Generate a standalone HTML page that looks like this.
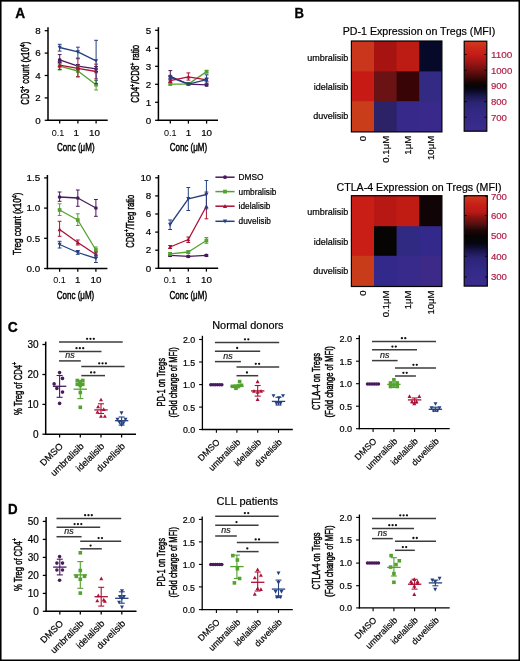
<!DOCTYPE html>
<html><head><meta charset="utf-8"><title>Figure</title>
<style>
html,body{margin:0;padding:0;background:#fff;}
svg{display:block;will-change:transform;}
text{font-family:"Liberation Sans",sans-serif;}
</style></head>
<body>
<svg width="520" height="661" viewBox="0 0 520 661">
<rect width="520" height="661" fill="#fff"/>
<rect x="0" y="0" width="1.55" height="661" fill="#000"/><rect x="518.5" y="0" width="1.5" height="661" fill="#000"/>
<rect x="0" y="0" width="520" height="1.65" fill="#000"/><rect x="0" y="659.5" width="520" height="1.5" fill="#000"/>
<text x="0" y="0" font-size="14.3" fill="#000" stroke="#000" stroke-width="0.3" font-weight="bold" transform="translate(15.3 17.9) scale(0.9586 1)"><tspan >A</tspan></text>
<text x="0" y="0" font-size="14.3" fill="#000" stroke="#000" stroke-width="0.3" font-weight="bold" transform="translate(294.6 18.1) scale(0.9199 1)"><tspan >B</tspan></text>
<text x="0" y="0" font-size="14.3" fill="#000" stroke="#000" stroke-width="0.3" font-weight="bold" transform="translate(7.7 332) scale(0.9683 1)"><tspan >C</tspan></text>
<text x="0" y="0" font-size="14.3" fill="#000" stroke="#000" stroke-width="0.3" font-weight="bold" transform="translate(8 513.8) scale(0.9296 1)"><tspan >D</tspan></text>
<line x1="48" y1="27.2" x2="48" y2="121.05" stroke="#000" stroke-width="1.5" />
<line x1="44.7" y1="30.7" x2="48" y2="30.7" stroke="#000" stroke-width="1.27" />
<text x="40.8" y="33.93" font-size="9.8" text-anchor="end" stroke="#000" stroke-width="0.2" >8</text>
<line x1="44.7" y1="53.1" x2="48" y2="53.1" stroke="#000" stroke-width="1.27" />
<text x="40.8" y="56.33" font-size="9.8" text-anchor="end" stroke="#000" stroke-width="0.2" >6</text>
<line x1="44.7" y1="75.5" x2="48" y2="75.5" stroke="#000" stroke-width="1.27" />
<text x="40.8" y="78.73" font-size="9.8" text-anchor="end" stroke="#000" stroke-width="0.2" >4</text>
<line x1="44.7" y1="97.9" x2="48" y2="97.9" stroke="#000" stroke-width="1.27" />
<text x="40.8" y="101.13" font-size="9.8" text-anchor="end" stroke="#000" stroke-width="0.2" >2</text>
<line x1="44.7" y1="120.3" x2="48" y2="120.3" stroke="#000" stroke-width="1.27" />
<text x="40.8" y="123.53" font-size="9.8" text-anchor="end" stroke="#000" stroke-width="0.2" >0</text>
<line x1="47.25" y1="120.3" x2="107.7" y2="120.3" stroke="#000" stroke-width="1.5" />
<line x1="59.7" y1="120.3" x2="59.7" y2="123.6" stroke="#000" stroke-width="1.27" />
<line x1="77.9" y1="120.3" x2="77.9" y2="123.6" stroke="#000" stroke-width="1.27" />
<line x1="96.1" y1="120.3" x2="96.1" y2="123.6" stroke="#000" stroke-width="1.27" />
<text x="0" y="0" font-size="9.8" text-anchor="middle" fill="#000" transform="translate(58 135.9) scale(0.9249 1)"><tspan >0.1</tspan></text>
<text x="76.2" y="135.9" font-size="9.8" text-anchor="middle" stroke="#000" stroke-width="0.2" >1</text>
<text x="94.4" y="135.9" font-size="9.8" text-anchor="middle" stroke="#000" stroke-width="0.2" >10</text>
<text x="0" y="0" font-size="10.8" text-anchor="middle" fill="#000" stroke="#000" stroke-width="0.45" transform="translate(75.8 151.3) scale(0.7407 1)"><tspan >Conc (μM)</tspan></text>
<text x="0" y="0" font-size="10.8" text-anchor="middle" fill="#000" stroke="#000" stroke-width="0.45" transform="translate(29.4 73.2) rotate(-90) scale(0.7241 1)"><tspan >CD3</tspan><tspan font-size="7.34" dy="-4.64">+</tspan><tspan dy="4.64"> count (x10</tspan><tspan font-size="7.34" dy="-4.64">4</tspan><tspan dy="4.64">)</tspan></text>
<polyline points="59.7,59.9 77.9,66.2 96.1,68.9" fill="none" stroke="#4a1a5e" stroke-width="1.3" stroke-linejoin="round"/>
<line x1="59.7" y1="54.6" x2="59.7" y2="62.5" stroke="#4a1a5e" stroke-width="1" />
<line x1="57.8" y1="54.6" x2="61.6" y2="54.6" stroke="#4a1a5e" stroke-width="1" />
<line x1="57.8" y1="62.5" x2="61.6" y2="62.5" stroke="#4a1a5e" stroke-width="1" />
<line x1="77.9" y1="64.5" x2="77.9" y2="68" stroke="#4a1a5e" stroke-width="1" />
<line x1="76" y1="64.5" x2="79.8" y2="64.5" stroke="#4a1a5e" stroke-width="1" />
<line x1="76" y1="68" x2="79.8" y2="68" stroke="#4a1a5e" stroke-width="1" />
<line x1="96.1" y1="66.5" x2="96.1" y2="71.5" stroke="#4a1a5e" stroke-width="1" />
<line x1="94.2" y1="66.5" x2="98" y2="66.5" stroke="#4a1a5e" stroke-width="1" />
<line x1="94.2" y1="71.5" x2="98" y2="71.5" stroke="#4a1a5e" stroke-width="1" />
<circle cx="59.7" cy="59.9" r="1.85" fill="#4a1a5e"/>
<circle cx="77.9" cy="66.2" r="1.85" fill="#4a1a5e"/>
<circle cx="96.1" cy="68.9" r="1.85" fill="#4a1a5e"/>
<polyline points="59.7,66.2 77.9,71 96.1,84.7" fill="none" stroke="#55a130" stroke-width="1.3" stroke-linejoin="round"/>
<line x1="59.7" y1="63.5" x2="59.7" y2="70" stroke="#55a130" stroke-width="1" />
<line x1="57.8" y1="63.5" x2="61.6" y2="63.5" stroke="#55a130" stroke-width="1" />
<line x1="57.8" y1="70" x2="61.6" y2="70" stroke="#55a130" stroke-width="1" />
<line x1="77.9" y1="66" x2="77.9" y2="76.8" stroke="#55a130" stroke-width="1" />
<line x1="76" y1="66" x2="79.8" y2="66" stroke="#55a130" stroke-width="1" />
<line x1="76" y1="76.8" x2="79.8" y2="76.8" stroke="#55a130" stroke-width="1" />
<line x1="96.1" y1="80.5" x2="96.1" y2="90" stroke="#55a130" stroke-width="1" />
<line x1="94.2" y1="80.5" x2="98" y2="80.5" stroke="#55a130" stroke-width="1" />
<line x1="94.2" y1="90" x2="98" y2="90" stroke="#55a130" stroke-width="1" />
<rect x="57.85" y="64.35" width="3.7" height="3.7" fill="#55a130"/>
<rect x="76.05" y="69.15" width="3.7" height="3.7" fill="#55a130"/>
<rect x="94.25" y="82.85" width="3.7" height="3.7" fill="#55a130"/>
<polyline points="59.7,65.2 77.9,68.3 96.1,71.5" fill="none" stroke="#ad1036" stroke-width="1.3" stroke-linejoin="round"/>
<line x1="59.7" y1="61.5" x2="59.7" y2="69.4" stroke="#ad1036" stroke-width="1" />
<line x1="57.8" y1="61.5" x2="61.6" y2="61.5" stroke="#ad1036" stroke-width="1" />
<line x1="57.8" y1="69.4" x2="61.6" y2="69.4" stroke="#ad1036" stroke-width="1" />
<line x1="77.9" y1="58.8" x2="77.9" y2="76.8" stroke="#ad1036" stroke-width="1" />
<line x1="76" y1="58.8" x2="79.8" y2="58.8" stroke="#ad1036" stroke-width="1" />
<line x1="76" y1="76.8" x2="79.8" y2="76.8" stroke="#ad1036" stroke-width="1" />
<line x1="96.1" y1="64.1" x2="96.1" y2="78.9" stroke="#ad1036" stroke-width="1" />
<line x1="94.2" y1="64.1" x2="98" y2="64.1" stroke="#ad1036" stroke-width="1" />
<line x1="94.2" y1="78.9" x2="98" y2="78.9" stroke="#ad1036" stroke-width="1" />
<polygon points="59.7,63.07 57.67,66.9 61.73,66.9" fill="#ad1036"/>
<polygon points="77.9,66.17 75.87,70 79.94,70" fill="#ad1036"/>
<polygon points="96.1,69.37 94.06,73.2 98.13,73.2" fill="#ad1036"/>
<polyline points="59.7,47.5 77.9,51.9 96.1,60.9" fill="none" stroke="#25407f" stroke-width="1.3" stroke-linejoin="round"/>
<line x1="59.7" y1="44.3" x2="59.7" y2="51.1" stroke="#25407f" stroke-width="1" />
<line x1="57.8" y1="44.3" x2="61.6" y2="44.3" stroke="#25407f" stroke-width="1" />
<line x1="57.8" y1="51.1" x2="61.6" y2="51.1" stroke="#25407f" stroke-width="1" />
<line x1="77.9" y1="47.2" x2="77.9" y2="58.1" stroke="#25407f" stroke-width="1" />
<line x1="76" y1="47.2" x2="79.8" y2="47.2" stroke="#25407f" stroke-width="1" />
<line x1="76" y1="58.1" x2="79.8" y2="58.1" stroke="#25407f" stroke-width="1" />
<line x1="96.1" y1="40.3" x2="96.1" y2="83.7" stroke="#25407f" stroke-width="1" />
<line x1="94.2" y1="40.3" x2="98" y2="40.3" stroke="#25407f" stroke-width="1" />
<line x1="94.2" y1="83.7" x2="98" y2="83.7" stroke="#25407f" stroke-width="1" />
<polygon points="59.7,49.63 57.67,45.8 61.73,45.8" fill="#25407f"/>
<polygon points="77.9,54.03 75.87,50.2 79.94,50.2" fill="#25407f"/>
<polygon points="96.1,63.03 94.06,59.2 98.13,59.2" fill="#25407f"/>
<line x1="158.4" y1="27.2" x2="158.4" y2="121.05" stroke="#000" stroke-width="1.5" />
<line x1="155.1" y1="30.3" x2="158.4" y2="30.3" stroke="#000" stroke-width="1.27" />
<text x="151.2" y="33.53" font-size="9.8" text-anchor="end" stroke="#000" stroke-width="0.2" >5</text>
<line x1="155.1" y1="48.3" x2="158.4" y2="48.3" stroke="#000" stroke-width="1.27" />
<text x="151.2" y="51.53" font-size="9.8" text-anchor="end" stroke="#000" stroke-width="0.2" >4</text>
<line x1="155.1" y1="66.3" x2="158.4" y2="66.3" stroke="#000" stroke-width="1.27" />
<text x="151.2" y="69.53" font-size="9.8" text-anchor="end" stroke="#000" stroke-width="0.2" >3</text>
<line x1="155.1" y1="84.3" x2="158.4" y2="84.3" stroke="#000" stroke-width="1.27" />
<text x="151.2" y="87.53" font-size="9.8" text-anchor="end" stroke="#000" stroke-width="0.2" >2</text>
<line x1="155.1" y1="102.3" x2="158.4" y2="102.3" stroke="#000" stroke-width="1.27" />
<text x="151.2" y="105.53" font-size="9.8" text-anchor="end" stroke="#000" stroke-width="0.2" >1</text>
<line x1="155.1" y1="120.3" x2="158.4" y2="120.3" stroke="#000" stroke-width="1.27" />
<text x="151.2" y="123.53" font-size="9.8" text-anchor="end" stroke="#000" stroke-width="0.2" >0</text>
<line x1="157.65" y1="120.3" x2="218" y2="120.3" stroke="#000" stroke-width="1.5" />
<line x1="170.3" y1="120.3" x2="170.3" y2="123.6" stroke="#000" stroke-width="1.27" />
<line x1="188.4" y1="120.3" x2="188.4" y2="123.6" stroke="#000" stroke-width="1.27" />
<line x1="206.6" y1="120.3" x2="206.6" y2="123.6" stroke="#000" stroke-width="1.27" />
<text x="0" y="0" font-size="9.8" text-anchor="middle" fill="#000" transform="translate(170.3 135.9) scale(0.9249 1)"><tspan >0.1</tspan></text>
<text x="188.4" y="135.9" font-size="9.8" text-anchor="middle" stroke="#000" stroke-width="0.2" >1</text>
<text x="206.6" y="135.9" font-size="9.8" text-anchor="middle" stroke="#000" stroke-width="0.2" >10</text>
<text x="0" y="0" font-size="10.8" text-anchor="middle" fill="#000" stroke="#000" stroke-width="0.45" transform="translate(188.4 151.3) scale(0.7407 1)"><tspan >Conc (μM)</tspan></text>
<text x="0" y="0" font-size="10.8" text-anchor="middle" fill="#000" stroke="#000" stroke-width="0.45" transform="translate(139.3 73.8) rotate(-90) scale(0.7360 1)"><tspan >CD4</tspan><tspan font-size="7.34" dy="-4.64">+</tspan><tspan dy="4.64">/CD8</tspan><tspan font-size="7.34" dy="-4.64">+</tspan><tspan dy="4.64"> ratio</tspan></text>
<polyline points="170.3,76.4 188.4,84.1 206.6,84.9" fill="none" stroke="#4a1a5e" stroke-width="1.3" stroke-linejoin="round"/>
<line x1="170.3" y1="70.6" x2="170.3" y2="80" stroke="#4a1a5e" stroke-width="1" />
<line x1="168.4" y1="70.6" x2="172.2" y2="70.6" stroke="#4a1a5e" stroke-width="1" />
<line x1="168.4" y1="80" x2="172.2" y2="80" stroke="#4a1a5e" stroke-width="1" />
<line x1="188.4" y1="83" x2="188.4" y2="85" stroke="#4a1a5e" stroke-width="1" />
<line x1="186.5" y1="83" x2="190.3" y2="83" stroke="#4a1a5e" stroke-width="1" />
<line x1="186.5" y1="85" x2="190.3" y2="85" stroke="#4a1a5e" stroke-width="1" />
<line x1="206.6" y1="84" x2="206.6" y2="86" stroke="#4a1a5e" stroke-width="1" />
<line x1="204.7" y1="84" x2="208.5" y2="84" stroke="#4a1a5e" stroke-width="1" />
<line x1="204.7" y1="86" x2="208.5" y2="86" stroke="#4a1a5e" stroke-width="1" />
<circle cx="170.3" cy="76.4" r="1.85" fill="#4a1a5e"/>
<circle cx="188.4" cy="84.1" r="1.85" fill="#4a1a5e"/>
<circle cx="206.6" cy="84.9" r="1.85" fill="#4a1a5e"/>
<polyline points="170.3,84.1 188.4,84.1 206.6,71.6" fill="none" stroke="#55a130" stroke-width="1.3" stroke-linejoin="round"/>
<line x1="170.3" y1="83" x2="170.3" y2="85" stroke="#55a130" stroke-width="1" />
<line x1="168.4" y1="83" x2="172.2" y2="83" stroke="#55a130" stroke-width="1" />
<line x1="168.4" y1="85" x2="172.2" y2="85" stroke="#55a130" stroke-width="1" />
<line x1="188.4" y1="83" x2="188.4" y2="85" stroke="#55a130" stroke-width="1" />
<line x1="186.5" y1="83" x2="190.3" y2="83" stroke="#55a130" stroke-width="1" />
<line x1="186.5" y1="85" x2="190.3" y2="85" stroke="#55a130" stroke-width="1" />
<line x1="206.6" y1="70.5" x2="206.6" y2="73" stroke="#55a130" stroke-width="1" />
<line x1="204.7" y1="70.5" x2="208.5" y2="70.5" stroke="#55a130" stroke-width="1" />
<line x1="204.7" y1="73" x2="208.5" y2="73" stroke="#55a130" stroke-width="1" />
<rect x="168.45" y="82.25" width="3.7" height="3.7" fill="#55a130"/>
<rect x="186.55" y="82.25" width="3.7" height="3.7" fill="#55a130"/>
<rect x="204.75" y="69.75" width="3.7" height="3.7" fill="#55a130"/>
<polyline points="170.3,80.6 188.4,76.9 206.6,79.9" fill="none" stroke="#ad1036" stroke-width="1.3" stroke-linejoin="round"/>
<line x1="170.3" y1="79" x2="170.3" y2="82.5" stroke="#ad1036" stroke-width="1" />
<line x1="168.4" y1="79" x2="172.2" y2="79" stroke="#ad1036" stroke-width="1" />
<line x1="168.4" y1="82.5" x2="172.2" y2="82.5" stroke="#ad1036" stroke-width="1" />
<line x1="188.4" y1="72.9" x2="188.4" y2="80.1" stroke="#ad1036" stroke-width="1" />
<line x1="186.5" y1="72.9" x2="190.3" y2="72.9" stroke="#ad1036" stroke-width="1" />
<line x1="186.5" y1="80.1" x2="190.3" y2="80.1" stroke="#ad1036" stroke-width="1" />
<line x1="206.6" y1="78" x2="206.6" y2="82" stroke="#ad1036" stroke-width="1" />
<line x1="204.7" y1="78" x2="208.5" y2="78" stroke="#ad1036" stroke-width="1" />
<line x1="204.7" y1="82" x2="208.5" y2="82" stroke="#ad1036" stroke-width="1" />
<polygon points="170.3,78.47 168.27,82.3 172.34,82.3" fill="#ad1036"/>
<polygon points="188.4,74.77 186.37,78.6 190.44,78.6" fill="#ad1036"/>
<polygon points="206.6,77.77 204.56,81.6 208.63,81.6" fill="#ad1036"/>
<polyline points="170.3,77.5 188.4,84.1 206.6,79.6" fill="none" stroke="#25407f" stroke-width="1.3" stroke-linejoin="round"/>
<line x1="170.3" y1="75.7" x2="170.3" y2="78.8" stroke="#25407f" stroke-width="1" />
<line x1="168.4" y1="75.7" x2="172.2" y2="75.7" stroke="#25407f" stroke-width="1" />
<line x1="168.4" y1="78.8" x2="172.2" y2="78.8" stroke="#25407f" stroke-width="1" />
<line x1="188.4" y1="83" x2="188.4" y2="85" stroke="#25407f" stroke-width="1" />
<line x1="186.5" y1="83" x2="190.3" y2="83" stroke="#25407f" stroke-width="1" />
<line x1="186.5" y1="85" x2="190.3" y2="85" stroke="#25407f" stroke-width="1" />
<line x1="206.6" y1="74.8" x2="206.6" y2="84" stroke="#25407f" stroke-width="1" />
<line x1="204.7" y1="74.8" x2="208.5" y2="74.8" stroke="#25407f" stroke-width="1" />
<line x1="204.7" y1="84" x2="208.5" y2="84" stroke="#25407f" stroke-width="1" />
<polygon points="170.3,79.63 168.27,75.8 172.34,75.8" fill="#25407f"/>
<polygon points="188.4,86.23 186.37,82.4 190.44,82.4" fill="#25407f"/>
<polygon points="206.6,81.73 204.56,77.9 208.63,77.9" fill="#25407f"/>
<line x1="47.4" y1="175" x2="47.4" y2="269.25" stroke="#000" stroke-width="1.5" />
<line x1="44.1" y1="177.9" x2="47.4" y2="177.9" stroke="#000" stroke-width="1.27" />
<text x="40.2" y="181.13" font-size="9.8" text-anchor="end" stroke="#000" stroke-width="0.2" >1.5</text>
<line x1="44.1" y1="208.1" x2="47.4" y2="208.1" stroke="#000" stroke-width="1.27" />
<text x="40.2" y="211.33" font-size="9.8" text-anchor="end" stroke="#000" stroke-width="0.2" >1.0</text>
<line x1="44.1" y1="238.3" x2="47.4" y2="238.3" stroke="#000" stroke-width="1.27" />
<text x="40.2" y="241.53" font-size="9.8" text-anchor="end" stroke="#000" stroke-width="0.2" >0.5</text>
<line x1="44.1" y1="268.5" x2="47.4" y2="268.5" stroke="#000" stroke-width="1.27" />
<text x="40.2" y="271.73" font-size="9.8" text-anchor="end" stroke="#000" stroke-width="0.2" >0.0</text>
<line x1="46.65" y1="268.5" x2="107.4" y2="268.5" stroke="#000" stroke-width="1.5" />
<line x1="59.6" y1="268.5" x2="59.6" y2="271.8" stroke="#000" stroke-width="1.27" />
<line x1="77.8" y1="268.5" x2="77.8" y2="271.8" stroke="#000" stroke-width="1.27" />
<line x1="95.9" y1="268.5" x2="95.9" y2="271.8" stroke="#000" stroke-width="1.27" />
<text x="0" y="0" font-size="9.8" text-anchor="middle" fill="#000" transform="translate(59.6 283.4) scale(0.9249 1)"><tspan >0.1</tspan></text>
<text x="77.8" y="283.4" font-size="9.8" text-anchor="middle" stroke="#000" stroke-width="0.2" >1</text>
<text x="95.9" y="283.4" font-size="9.8" text-anchor="middle" stroke="#000" stroke-width="0.2" >10</text>
<text x="0" y="0" font-size="10.8" text-anchor="middle" fill="#000" stroke="#000" stroke-width="0.45" transform="translate(75.5 299.3) scale(0.7407 1)"><tspan >Conc (μM)</tspan></text>
<text x="0" y="0" font-size="10.8" text-anchor="middle" fill="#000" stroke="#000" stroke-width="0.45" transform="translate(21.4 223.7) rotate(-90) scale(0.7537 1)"><tspan >Treg count (x10</tspan><tspan font-size="7.34" dy="-4.64">4</tspan><tspan dy="4.64">)</tspan></text>
<polyline points="59.6,197 77.8,198 95.9,208" fill="none" stroke="#4a1a5e" stroke-width="1.3" stroke-linejoin="round"/>
<line x1="59.6" y1="192" x2="59.6" y2="201.3" stroke="#4a1a5e" stroke-width="1" />
<line x1="57.7" y1="192" x2="61.5" y2="192" stroke="#4a1a5e" stroke-width="1" />
<line x1="57.7" y1="201.3" x2="61.5" y2="201.3" stroke="#4a1a5e" stroke-width="1" />
<line x1="77.8" y1="190" x2="77.8" y2="206.3" stroke="#4a1a5e" stroke-width="1" />
<line x1="75.9" y1="190" x2="79.7" y2="190" stroke="#4a1a5e" stroke-width="1" />
<line x1="75.9" y1="206.3" x2="79.7" y2="206.3" stroke="#4a1a5e" stroke-width="1" />
<line x1="95.9" y1="199.5" x2="95.9" y2="216.3" stroke="#4a1a5e" stroke-width="1" />
<line x1="94" y1="199.5" x2="97.8" y2="199.5" stroke="#4a1a5e" stroke-width="1" />
<line x1="94" y1="216.3" x2="97.8" y2="216.3" stroke="#4a1a5e" stroke-width="1" />
<circle cx="59.6" cy="197" r="1.85" fill="#4a1a5e"/>
<circle cx="77.8" cy="198" r="1.85" fill="#4a1a5e"/>
<circle cx="95.9" cy="208" r="1.85" fill="#4a1a5e"/>
<polyline points="59.6,210 77.8,220 95.9,250" fill="none" stroke="#55a130" stroke-width="1.3" stroke-linejoin="round"/>
<line x1="59.6" y1="203.8" x2="59.6" y2="215.5" stroke="#55a130" stroke-width="1" />
<line x1="57.7" y1="203.8" x2="61.5" y2="203.8" stroke="#55a130" stroke-width="1" />
<line x1="57.7" y1="215.5" x2="61.5" y2="215.5" stroke="#55a130" stroke-width="1" />
<line x1="77.8" y1="213.8" x2="77.8" y2="225.5" stroke="#55a130" stroke-width="1" />
<line x1="75.9" y1="213.8" x2="79.7" y2="213.8" stroke="#55a130" stroke-width="1" />
<line x1="75.9" y1="225.5" x2="79.7" y2="225.5" stroke="#55a130" stroke-width="1" />
<line x1="95.9" y1="247" x2="95.9" y2="253" stroke="#55a130" stroke-width="1" />
<line x1="94" y1="247" x2="97.8" y2="247" stroke="#55a130" stroke-width="1" />
<line x1="94" y1="253" x2="97.8" y2="253" stroke="#55a130" stroke-width="1" />
<rect x="57.75" y="208.15" width="3.7" height="3.7" fill="#55a130"/>
<rect x="75.95" y="218.15" width="3.7" height="3.7" fill="#55a130"/>
<rect x="94.05" y="248.15" width="3.7" height="3.7" fill="#55a130"/>
<polyline points="59.6,229.5 77.8,242.5 95.9,254.5" fill="none" stroke="#ad1036" stroke-width="1.3" stroke-linejoin="round"/>
<line x1="59.6" y1="221.3" x2="59.6" y2="236.3" stroke="#ad1036" stroke-width="1" />
<line x1="57.7" y1="221.3" x2="61.5" y2="221.3" stroke="#ad1036" stroke-width="1" />
<line x1="57.7" y1="236.3" x2="61.5" y2="236.3" stroke="#ad1036" stroke-width="1" />
<line x1="77.8" y1="240" x2="77.8" y2="245" stroke="#ad1036" stroke-width="1" />
<line x1="75.9" y1="240" x2="79.7" y2="240" stroke="#ad1036" stroke-width="1" />
<line x1="75.9" y1="245" x2="79.7" y2="245" stroke="#ad1036" stroke-width="1" />
<line x1="95.9" y1="252" x2="95.9" y2="257.5" stroke="#ad1036" stroke-width="1" />
<line x1="94" y1="252" x2="97.8" y2="252" stroke="#ad1036" stroke-width="1" />
<line x1="94" y1="257.5" x2="97.8" y2="257.5" stroke="#ad1036" stroke-width="1" />
<polygon points="59.6,227.37 57.56,231.2 61.64,231.2" fill="#ad1036"/>
<polygon points="77.8,240.37 75.77,244.2 79.83,244.2" fill="#ad1036"/>
<polygon points="95.9,252.37 93.87,256.2 97.94,256.2" fill="#ad1036"/>
<polyline points="59.6,244.5 77.8,252.5 95.9,258.3" fill="none" stroke="#25407f" stroke-width="1.3" stroke-linejoin="round"/>
<line x1="59.6" y1="241.3" x2="59.6" y2="248" stroke="#25407f" stroke-width="1" />
<line x1="57.7" y1="241.3" x2="61.5" y2="241.3" stroke="#25407f" stroke-width="1" />
<line x1="57.7" y1="248" x2="61.5" y2="248" stroke="#25407f" stroke-width="1" />
<line x1="77.8" y1="250.5" x2="77.8" y2="254.3" stroke="#25407f" stroke-width="1" />
<line x1="75.9" y1="250.5" x2="79.7" y2="250.5" stroke="#25407f" stroke-width="1" />
<line x1="75.9" y1="254.3" x2="79.7" y2="254.3" stroke="#25407f" stroke-width="1" />
<line x1="95.9" y1="255" x2="95.9" y2="262.5" stroke="#25407f" stroke-width="1" />
<line x1="94" y1="255" x2="97.8" y2="255" stroke="#25407f" stroke-width="1" />
<line x1="94" y1="262.5" x2="97.8" y2="262.5" stroke="#25407f" stroke-width="1" />
<polygon points="59.6,246.63 57.56,242.8 61.64,242.8" fill="#25407f"/>
<polygon points="77.8,254.63 75.77,250.8 79.83,250.8" fill="#25407f"/>
<polygon points="95.9,260.43 93.87,256.6 97.94,256.6" fill="#25407f"/>
<line x1="158.5" y1="175" x2="158.5" y2="269.05" stroke="#000" stroke-width="1.5" />
<line x1="155.2" y1="177.8" x2="158.5" y2="177.8" stroke="#000" stroke-width="1.27" />
<text x="151.3" y="181.03" font-size="9.8" text-anchor="end" stroke="#000" stroke-width="0.2" >10</text>
<line x1="155.2" y1="195.9" x2="158.5" y2="195.9" stroke="#000" stroke-width="1.27" />
<text x="151.3" y="199.13" font-size="9.8" text-anchor="end" stroke="#000" stroke-width="0.2" >8</text>
<line x1="155.2" y1="214" x2="158.5" y2="214" stroke="#000" stroke-width="1.27" />
<text x="151.3" y="217.23" font-size="9.8" text-anchor="end" stroke="#000" stroke-width="0.2" >6</text>
<line x1="155.2" y1="232.1" x2="158.5" y2="232.1" stroke="#000" stroke-width="1.27" />
<text x="151.3" y="235.33" font-size="9.8" text-anchor="end" stroke="#000" stroke-width="0.2" >4</text>
<line x1="155.2" y1="250.2" x2="158.5" y2="250.2" stroke="#000" stroke-width="1.27" />
<text x="151.3" y="253.43" font-size="9.8" text-anchor="end" stroke="#000" stroke-width="0.2" >2</text>
<line x1="155.2" y1="268.3" x2="158.5" y2="268.3" stroke="#000" stroke-width="1.27" />
<text x="151.3" y="271.53" font-size="9.8" text-anchor="end" stroke="#000" stroke-width="0.2" >0</text>
<line x1="157.75" y1="268.3" x2="218.2" y2="268.3" stroke="#000" stroke-width="1.5" />
<line x1="170.1" y1="268.3" x2="170.1" y2="271.6" stroke="#000" stroke-width="1.27" />
<line x1="188.3" y1="268.3" x2="188.3" y2="271.6" stroke="#000" stroke-width="1.27" />
<line x1="206.4" y1="268.3" x2="206.4" y2="271.6" stroke="#000" stroke-width="1.27" />
<text x="0" y="0" font-size="9.8" text-anchor="middle" fill="#000" transform="translate(170.1 283.4) scale(0.9249 1)"><tspan >0.1</tspan></text>
<text x="188.3" y="283.4" font-size="9.8" text-anchor="middle" stroke="#000" stroke-width="0.2" >1</text>
<text x="206.4" y="283.4" font-size="9.8" text-anchor="middle" stroke="#000" stroke-width="0.2" >10</text>
<text x="0" y="0" font-size="10.8" text-anchor="middle" fill="#000" stroke="#000" stroke-width="0.45" transform="translate(188.3 299.3) scale(0.7407 1)"><tspan >Conc (μM)</tspan></text>
<text x="0" y="0" font-size="10.8" text-anchor="middle" fill="#000" stroke="#000" stroke-width="0.45" transform="translate(133.7 221.2) rotate(-90) scale(0.7094 1)"><tspan >CD8</tspan><tspan font-size="7.34" dy="-4.64">+</tspan><tspan dy="4.64">/Treg ratio</tspan></text>
<polyline points="170.1,255.3 188.3,256.3 206.4,255.3" fill="none" stroke="#4a1a5e" stroke-width="1.3" stroke-linejoin="round"/>
<line x1="170.1" y1="254.5" x2="170.1" y2="256.5" stroke="#4a1a5e" stroke-width="1" />
<line x1="168.2" y1="254.5" x2="172" y2="254.5" stroke="#4a1a5e" stroke-width="1" />
<line x1="168.2" y1="256.5" x2="172" y2="256.5" stroke="#4a1a5e" stroke-width="1" />
<line x1="188.3" y1="255.5" x2="188.3" y2="257.5" stroke="#4a1a5e" stroke-width="1" />
<line x1="186.4" y1="255.5" x2="190.2" y2="255.5" stroke="#4a1a5e" stroke-width="1" />
<line x1="186.4" y1="257.5" x2="190.2" y2="257.5" stroke="#4a1a5e" stroke-width="1" />
<line x1="206.4" y1="254.5" x2="206.4" y2="256.5" stroke="#4a1a5e" stroke-width="1" />
<line x1="204.5" y1="254.5" x2="208.3" y2="254.5" stroke="#4a1a5e" stroke-width="1" />
<line x1="204.5" y1="256.5" x2="208.3" y2="256.5" stroke="#4a1a5e" stroke-width="1" />
<circle cx="170.1" cy="255.3" r="1.85" fill="#4a1a5e"/>
<circle cx="188.3" cy="256.3" r="1.85" fill="#4a1a5e"/>
<circle cx="206.4" cy="255.3" r="1.85" fill="#4a1a5e"/>
<polyline points="170.1,253.8 188.3,252 206.4,240.5" fill="none" stroke="#55a130" stroke-width="1.3" stroke-linejoin="round"/>
<line x1="170.1" y1="252.5" x2="170.1" y2="255" stroke="#55a130" stroke-width="1" />
<line x1="168.2" y1="252.5" x2="172" y2="252.5" stroke="#55a130" stroke-width="1" />
<line x1="168.2" y1="255" x2="172" y2="255" stroke="#55a130" stroke-width="1" />
<line x1="188.3" y1="251" x2="188.3" y2="253.5" stroke="#55a130" stroke-width="1" />
<line x1="186.4" y1="251" x2="190.2" y2="251" stroke="#55a130" stroke-width="1" />
<line x1="186.4" y1="253.5" x2="190.2" y2="253.5" stroke="#55a130" stroke-width="1" />
<line x1="206.4" y1="237.5" x2="206.4" y2="243.3" stroke="#55a130" stroke-width="1" />
<line x1="204.5" y1="237.5" x2="208.3" y2="237.5" stroke="#55a130" stroke-width="1" />
<line x1="204.5" y1="243.3" x2="208.3" y2="243.3" stroke="#55a130" stroke-width="1" />
<rect x="168.25" y="251.95" width="3.7" height="3.7" fill="#55a130"/>
<rect x="186.45" y="250.15" width="3.7" height="3.7" fill="#55a130"/>
<rect x="204.55" y="238.65" width="3.7" height="3.7" fill="#55a130"/>
<polyline points="170.1,247 188.3,239.5 206.4,206.3" fill="none" stroke="#ad1036" stroke-width="1.3" stroke-linejoin="round"/>
<line x1="170.1" y1="245.5" x2="170.1" y2="248.5" stroke="#ad1036" stroke-width="1" />
<line x1="168.2" y1="245.5" x2="172" y2="245.5" stroke="#ad1036" stroke-width="1" />
<line x1="168.2" y1="248.5" x2="172" y2="248.5" stroke="#ad1036" stroke-width="1" />
<line x1="188.3" y1="237" x2="188.3" y2="242.5" stroke="#ad1036" stroke-width="1" />
<line x1="186.4" y1="237" x2="190.2" y2="237" stroke="#ad1036" stroke-width="1" />
<line x1="186.4" y1="242.5" x2="190.2" y2="242.5" stroke="#ad1036" stroke-width="1" />
<line x1="206.4" y1="192" x2="206.4" y2="218.8" stroke="#ad1036" stroke-width="1" />
<line x1="204.5" y1="192" x2="208.3" y2="192" stroke="#ad1036" stroke-width="1" />
<line x1="204.5" y1="218.8" x2="208.3" y2="218.8" stroke="#ad1036" stroke-width="1" />
<polygon points="170.1,244.87 168.06,248.7 172.13,248.7" fill="#ad1036"/>
<polygon points="188.3,237.37 186.27,241.2 190.34,241.2" fill="#ad1036"/>
<polygon points="206.4,204.17 204.37,208 208.44,208" fill="#ad1036"/>
<polyline points="170.1,224.5 188.3,198.8 206.4,194.5" fill="none" stroke="#25407f" stroke-width="1.3" stroke-linejoin="round"/>
<line x1="170.1" y1="220" x2="170.1" y2="229.5" stroke="#25407f" stroke-width="1" />
<line x1="168.2" y1="220" x2="172" y2="220" stroke="#25407f" stroke-width="1" />
<line x1="168.2" y1="229.5" x2="172" y2="229.5" stroke="#25407f" stroke-width="1" />
<line x1="188.3" y1="187.5" x2="188.3" y2="210.5" stroke="#25407f" stroke-width="1" />
<line x1="186.4" y1="187.5" x2="190.2" y2="187.5" stroke="#25407f" stroke-width="1" />
<line x1="186.4" y1="210.5" x2="190.2" y2="210.5" stroke="#25407f" stroke-width="1" />
<line x1="206.4" y1="180.5" x2="206.4" y2="208.8" stroke="#25407f" stroke-width="1" />
<line x1="204.5" y1="180.5" x2="208.3" y2="180.5" stroke="#25407f" stroke-width="1" />
<line x1="204.5" y1="208.8" x2="208.3" y2="208.8" stroke="#25407f" stroke-width="1" />
<polygon points="170.1,226.63 168.06,222.8 172.13,222.8" fill="#25407f"/>
<polygon points="188.3,200.93 186.27,197.1 190.34,197.1" fill="#25407f"/>
<polygon points="206.4,196.63 204.37,192.8 208.44,192.8" fill="#25407f"/>
<line x1="215.4" y1="177.2" x2="234.6" y2="177.2" stroke="#4a1a5e" stroke-width="1.5" />
<circle cx="225" cy="177.2" r="1.9" fill="#4a1a5e"/>
<text x="238.6" y="180.2" font-size="8.3" stroke="#000" stroke-width="0.2" >DMSO</text>
<line x1="215.4" y1="191.6" x2="234.6" y2="191.6" stroke="#55a130" stroke-width="1.5" />
<rect x="223.1" y="189.7" width="3.8" height="3.8" fill="#55a130"/>
<text x="238.6" y="194.6" font-size="8.3" stroke="#000" stroke-width="0.2" >umbralisib</text>
<line x1="215.4" y1="206.2" x2="234.6" y2="206.2" stroke="#ad1036" stroke-width="1.5" />
<polygon points="225,204.01 222.91,207.95 227.09,207.95" fill="#ad1036"/>
<text x="238.6" y="209.2" font-size="8.3" stroke="#000" stroke-width="0.2" >idelalisib</text>
<line x1="215.4" y1="221.3" x2="234.6" y2="221.3" stroke="#25407f" stroke-width="1.5" />
<polygon points="225,223.49 222.91,219.55 227.09,219.55" fill="#25407f"/>
<text x="238.6" y="224.3" font-size="8.3" stroke="#000" stroke-width="0.2" >duvelisib</text>
<text x="419" y="34.7" font-size="10.65" text-anchor="middle" stroke="#000" stroke-width="0.2" >PD-1 Expression on Tregs (MFI)</text>
<rect x="351.4" y="41" width="23.6" height="31.4" fill="#c9361b"/>
<rect x="374" y="41" width="23.6" height="31.4" fill="#a71311"/>
<rect x="396.6" y="41" width="23.6" height="31.4" fill="#bd1c14"/>
<rect x="419.2" y="41" width="22.7" height="31.4" fill="#060a28"/>
<rect x="351.4" y="71.4" width="23.6" height="30.8" fill="#c71a14"/>
<rect x="374" y="71.4" width="23.6" height="30.8" fill="#6b1214"/>
<rect x="396.6" y="71.4" width="23.6" height="30.8" fill="#380406"/>
<rect x="419.2" y="71.4" width="22.7" height="30.8" fill="#332a84"/>
<rect x="351.4" y="101.2" width="23.6" height="30.7" fill="#c93d1b"/>
<rect x="374" y="101.2" width="23.6" height="30.7" fill="#2b2267"/>
<rect x="396.6" y="101.2" width="23.6" height="30.7" fill="#36298a"/>
<rect x="419.2" y="101.2" width="22.7" height="30.7" fill="#38298a"/>
<rect x="351.4" y="41" width="90.5" height="90.9" fill="none" stroke="#000" stroke-width="1.2"/>
<text x="348.3" y="60.7" font-size="9" text-anchor="end" stroke="#000" stroke-width="0.2" >umbralisib</text>
<text x="348.3" y="90.3" font-size="9" text-anchor="end" stroke="#000" stroke-width="0.2" >idelalisib</text>
<text x="348.3" y="119.4" font-size="9" text-anchor="end" stroke="#000" stroke-width="0.2" >duvelisib</text>
<text x="0" y="0" font-size="9.6" text-anchor="end" stroke="#000" stroke-width="0.2" transform="translate(366.1 135.8) rotate(-90)" >0</text>
<text x="0" y="0" font-size="9.6" text-anchor="end" stroke="#000" stroke-width="0.2" transform="translate(388.7 135.8) rotate(-90)" >0.1μM</text>
<text x="0" y="0" font-size="9.6" text-anchor="end" stroke="#000" stroke-width="0.2" transform="translate(411.3 135.8) rotate(-90)" >1μM</text>
<text x="0" y="0" font-size="9.6" text-anchor="end" stroke="#000" stroke-width="0.2" transform="translate(433.95 135.8) rotate(-90)" >10μM</text>
<defs><linearGradient id="g1" x1="0" y1="0" x2="0" y2="1"><stop offset="0" stop-color="#d03c1e"/><stop offset="0.07" stop-color="#cc2a1a"/><stop offset="0.15" stop-color="#c41c18"/><stop offset="0.23" stop-color="#a01614"/><stop offset="0.32" stop-color="#701010"/><stop offset="0.4" stop-color="#400808"/><stop offset="0.47" stop-color="#100404"/><stop offset="0.51" stop-color="#050508"/><stop offset="0.55" stop-color="#0a0a24"/><stop offset="0.61" stop-color="#1a1850"/><stop offset="0.68" stop-color="#2a2472"/><stop offset="0.77" stop-color="#322883"/><stop offset="1" stop-color="#3a2c8e"/></linearGradient></defs>
<rect x="464.2" y="41.2" width="22.6" height="90" fill="url(#g1)" stroke="#000" stroke-width="1.2"/>
<line x1="464.2" y1="54.5" x2="466.6" y2="54.5" stroke="#000" stroke-width="0.9" />
<line x1="484.4" y1="54.5" x2="486.8" y2="54.5" stroke="#000" stroke-width="0.9" />
<text x="490.9" y="57.85" font-size="9.6" fill="#b01e46" textLength="21.4" lengthAdjust="spacingAndGlyphs" stroke="#b01e46" stroke-width="0.2" >1100</text>
<line x1="464.2" y1="70.3" x2="466.6" y2="70.3" stroke="#000" stroke-width="0.9" />
<line x1="484.4" y1="70.3" x2="486.8" y2="70.3" stroke="#000" stroke-width="0.9" />
<text x="490.9" y="73.65" font-size="9.6" fill="#b01e46" textLength="21.4" lengthAdjust="spacingAndGlyphs" stroke="#b01e46" stroke-width="0.2" >1000</text>
<line x1="464.2" y1="86.1" x2="466.6" y2="86.1" stroke="#000" stroke-width="0.9" />
<line x1="484.4" y1="86.1" x2="486.8" y2="86.1" stroke="#000" stroke-width="0.9" />
<text x="490.9" y="89.45" font-size="9.6" fill="#b01e46" textLength="16.05" lengthAdjust="spacingAndGlyphs" stroke="#b01e46" stroke-width="0.2" >900</text>
<line x1="464.2" y1="101.6" x2="466.6" y2="101.6" stroke="#000" stroke-width="0.9" />
<line x1="484.4" y1="101.6" x2="486.8" y2="101.6" stroke="#000" stroke-width="0.9" />
<text x="490.9" y="104.95" font-size="9.6" fill="#b01e46" textLength="16.05" lengthAdjust="spacingAndGlyphs" stroke="#b01e46" stroke-width="0.2" >800</text>
<line x1="464.2" y1="117.2" x2="466.6" y2="117.2" stroke="#000" stroke-width="0.9" />
<line x1="484.4" y1="117.2" x2="486.8" y2="117.2" stroke="#000" stroke-width="0.9" />
<text x="490.9" y="120.55" font-size="9.6" fill="#b01e46" textLength="16.05" lengthAdjust="spacingAndGlyphs" stroke="#b01e46" stroke-width="0.2" >700</text>
<text x="419" y="190.6" font-size="10.65" text-anchor="middle" stroke="#000" stroke-width="0.2" >CTLA-4 Expression on Tregs (MFI)</text>
<rect x="351.4" y="195.7" width="23.6" height="31.5" fill="#c81e16"/>
<rect x="374" y="195.7" width="23.6" height="31.5" fill="#b81814"/>
<rect x="396.6" y="195.7" width="23.6" height="31.5" fill="#c01c14"/>
<rect x="419.2" y="195.7" width="22.7" height="31.5" fill="#110406"/>
<rect x="351.4" y="226.2" width="23.6" height="30.6" fill="#c81e16"/>
<rect x="374" y="226.2" width="23.6" height="30.6" fill="#070404"/>
<rect x="396.6" y="226.2" width="23.6" height="30.6" fill="#302a82"/>
<rect x="419.2" y="226.2" width="22.7" height="30.6" fill="#33298a"/>
<rect x="351.4" y="255.8" width="23.6" height="30.7" fill="#c93c1a"/>
<rect x="374" y="255.8" width="23.6" height="30.7" fill="#33298a"/>
<rect x="396.6" y="255.8" width="23.6" height="30.7" fill="#382a8a"/>
<rect x="419.2" y="255.8" width="22.7" height="30.7" fill="#3d2a88"/>
<rect x="351.4" y="195.7" width="90.5" height="90.8" fill="none" stroke="#000" stroke-width="1.2"/>
<text x="348.3" y="215.1" font-size="9" text-anchor="end" stroke="#000" stroke-width="0.2" >umbralisib</text>
<text x="348.3" y="244.7" font-size="9" text-anchor="end" stroke="#000" stroke-width="0.2" >idelalisib</text>
<text x="348.3" y="274" font-size="9" text-anchor="end" stroke="#000" stroke-width="0.2" >duvelisib</text>
<text x="0" y="0" font-size="9.6" text-anchor="end" stroke="#000" stroke-width="0.2" transform="translate(366.1 290.4) rotate(-90)" >0</text>
<text x="0" y="0" font-size="9.6" text-anchor="end" stroke="#000" stroke-width="0.2" transform="translate(388.7 290.4) rotate(-90)" >0.1μM</text>
<text x="0" y="0" font-size="9.6" text-anchor="end" stroke="#000" stroke-width="0.2" transform="translate(411.3 290.4) rotate(-90)" >1μM</text>
<text x="0" y="0" font-size="9.6" text-anchor="end" stroke="#000" stroke-width="0.2" transform="translate(433.95 290.4) rotate(-90)" >10μM</text>
<defs><linearGradient id="g2" x1="0" y1="0" x2="0" y2="1"><stop offset="0" stop-color="#d03a1e"/><stop offset="0.1" stop-color="#c81e18"/><stop offset="0.18" stop-color="#b81a16"/><stop offset="0.24" stop-color="#8a1210"/><stop offset="0.32" stop-color="#501010"/><stop offset="0.38" stop-color="#200606"/><stop offset="0.45" stop-color="#060404"/><stop offset="0.52" stop-color="#05050c"/><stop offset="0.57" stop-color="#0d0c30"/><stop offset="0.62" stop-color="#1c1850"/><stop offset="0.69" stop-color="#2c2478"/><stop offset="0.83" stop-color="#342a88"/><stop offset="1" stop-color="#3a2c8e"/></linearGradient></defs>
<rect x="464.2" y="195.7" width="23.1" height="90.4" fill="url(#g2)" stroke="#000" stroke-width="1.2"/>
<line x1="464.2" y1="196.3" x2="466.6" y2="196.3" stroke="#000" stroke-width="0.9" />
<line x1="484.9" y1="196.3" x2="487.3" y2="196.3" stroke="#000" stroke-width="0.9" />
<text x="490.9" y="199.65" font-size="9.6" fill="#b01e46" textLength="16.05" lengthAdjust="spacingAndGlyphs" stroke="#b01e46" stroke-width="0.2" >700</text>
<line x1="464.2" y1="215.6" x2="466.6" y2="215.6" stroke="#000" stroke-width="0.9" />
<line x1="484.9" y1="215.6" x2="487.3" y2="215.6" stroke="#000" stroke-width="0.9" />
<text x="490.9" y="218.95" font-size="9.6" fill="#b01e46" textLength="16.05" lengthAdjust="spacingAndGlyphs" stroke="#b01e46" stroke-width="0.2" >600</text>
<line x1="464.2" y1="236" x2="466.6" y2="236" stroke="#000" stroke-width="0.9" />
<line x1="484.9" y1="236" x2="487.3" y2="236" stroke="#000" stroke-width="0.9" />
<text x="490.9" y="239.35" font-size="9.6" fill="#b01e46" textLength="16.05" lengthAdjust="spacingAndGlyphs" stroke="#b01e46" stroke-width="0.2" >500</text>
<line x1="464.2" y1="256.3" x2="466.6" y2="256.3" stroke="#000" stroke-width="0.9" />
<line x1="484.9" y1="256.3" x2="487.3" y2="256.3" stroke="#000" stroke-width="0.9" />
<text x="490.9" y="259.65" font-size="9.6" fill="#b01e46" textLength="16.05" lengthAdjust="spacingAndGlyphs" stroke="#b01e46" stroke-width="0.2" >400</text>
<line x1="464.2" y1="277" x2="466.6" y2="277" stroke="#000" stroke-width="0.9" />
<line x1="484.9" y1="277" x2="487.3" y2="277" stroke="#000" stroke-width="0.9" />
<text x="490.9" y="280.35" font-size="9.6" fill="#b01e46" textLength="16.05" lengthAdjust="spacingAndGlyphs" stroke="#b01e46" stroke-width="0.2" >300</text>
<line x1="45.7" y1="341.6" x2="45.7" y2="434.95" stroke="#000" stroke-width="1.5" />
<line x1="42.4" y1="344.5" x2="45.7" y2="344.5" stroke="#000" stroke-width="1.27" />
<text x="38.5" y="347.8" font-size="10" text-anchor="end" stroke="#000" stroke-width="0.2" >30</text>
<line x1="42.4" y1="374.5" x2="45.7" y2="374.5" stroke="#000" stroke-width="1.27" />
<text x="38.5" y="377.8" font-size="10" text-anchor="end" stroke="#000" stroke-width="0.2" >20</text>
<line x1="42.4" y1="404.4" x2="45.7" y2="404.4" stroke="#000" stroke-width="1.27" />
<text x="38.5" y="407.7" font-size="10" text-anchor="end" stroke="#000" stroke-width="0.2" >10</text>
<line x1="42.4" y1="434.2" x2="45.7" y2="434.2" stroke="#000" stroke-width="1.27" />
<text x="38.5" y="437.5" font-size="10" text-anchor="end" stroke="#000" stroke-width="0.2" >0</text>
<line x1="44.95" y1="434.2" x2="136" y2="434.2" stroke="#000" stroke-width="1.5" />
<line x1="59.6" y1="434.2" x2="59.6" y2="437.5" stroke="#000" stroke-width="1.27" />
<line x1="80.3" y1="434.2" x2="80.3" y2="437.5" stroke="#000" stroke-width="1.27" />
<line x1="101" y1="434.2" x2="101" y2="437.5" stroke="#000" stroke-width="1.27" />
<line x1="121.6" y1="434.2" x2="121.6" y2="437.5" stroke="#000" stroke-width="1.27" />
<text x="0" y="0" font-size="10.8" text-anchor="middle" fill="#000" stroke="#000" stroke-width="0.45" transform="translate(21.5 388.5) rotate(-90) scale(0.7056 1)"><tspan >% Treg of CD4</tspan><tspan font-size="7.34" dy="-4.64">+</tspan></text>
<text x="0" y="0" font-size="9.3" text-anchor="end" stroke="#000" stroke-width="0.2" transform="translate(63.6 446.8) rotate(-45)" >DMSO</text>
<text x="0" y="0" font-size="9.3" text-anchor="end" stroke="#000" stroke-width="0.2" transform="translate(84.3 446.8) rotate(-45)" >umbralisib</text>
<text x="0" y="0" font-size="9.3" text-anchor="end" stroke="#000" stroke-width="0.2" transform="translate(105 446.8) rotate(-45)" >idelalisib</text>
<text x="0" y="0" font-size="9.3" text-anchor="end" stroke="#000" stroke-width="0.2" transform="translate(125.6 446.8) rotate(-45)" >duvelisib</text>
<line x1="59" y1="342" x2="122.7" y2="342" stroke="#3c3c3c" stroke-width="1.5" />
<circle cx="87.1" cy="338.8" r="1.15" fill="#111"/>
<circle cx="90.45" cy="338.8" r="1.15" fill="#111"/>
<circle cx="93.8" cy="338.8" r="1.15" fill="#111"/>
<line x1="59" y1="351.4" x2="101.5" y2="351.4" stroke="#3c3c3c" stroke-width="1.5" />
<circle cx="76.5" cy="348.2" r="1.15" fill="#111"/>
<circle cx="79.85" cy="348.2" r="1.15" fill="#111"/>
<circle cx="83.2" cy="348.2" r="1.15" fill="#111"/>
<line x1="59" y1="360.9" x2="80.8" y2="360.9" stroke="#3c3c3c" stroke-width="1.5" />
<text x="69.9" y="358" font-size="8.9" text-anchor="middle" fill="#222" font-style="italic" stroke="#222" stroke-width="0.2" >ns</text>
<line x1="81.3" y1="366.5" x2="124.6" y2="366.5" stroke="#3c3c3c" stroke-width="1.5" />
<circle cx="99.2" cy="363.3" r="1.15" fill="#111"/>
<circle cx="102.55" cy="363.3" r="1.15" fill="#111"/>
<circle cx="105.9" cy="363.3" r="1.15" fill="#111"/>
<line x1="81.3" y1="375.6" x2="105" y2="375.6" stroke="#3c3c3c" stroke-width="1.5" />
<circle cx="91.08" cy="372.4" r="1.15" fill="#111"/>
<circle cx="94.42" cy="372.4" r="1.15" fill="#111"/>
<circle cx="59.6" cy="372.6" r="1.8" fill="#4a1a5e"/>
<circle cx="62.5" cy="378.4" r="1.8" fill="#4a1a5e"/>
<circle cx="54.1" cy="383.9" r="1.8" fill="#4a1a5e"/>
<circle cx="56.9" cy="388.4" r="1.8" fill="#4a1a5e"/>
<circle cx="62.5" cy="392.1" r="1.8" fill="#4a1a5e"/>
<circle cx="59.6" cy="403.4" r="1.8" fill="#4a1a5e"/>
<line x1="52.9" y1="386.3" x2="66.3" y2="386.3" stroke="#4a1a5e" stroke-width="1.3" />
<line x1="59.6" y1="375.5" x2="59.6" y2="397.3" stroke="#4a1a5e" stroke-width="1.1" />
<line x1="56.6" y1="375.5" x2="62.6" y2="375.5" stroke="#4a1a5e" stroke-width="1.1" />
<line x1="56.6" y1="397.3" x2="62.6" y2="397.3" stroke="#4a1a5e" stroke-width="1.1" />
<rect x="75.5" y="378.7" width="3.6" height="3.6" fill="#55a130"/>
<rect x="81" y="378.7" width="3.6" height="3.6" fill="#55a130"/>
<rect x="78.2" y="380.7" width="3.6" height="3.6" fill="#55a130"/>
<rect x="75.5" y="382.5" width="3.6" height="3.6" fill="#55a130"/>
<rect x="81" y="382.5" width="3.6" height="3.6" fill="#55a130"/>
<rect x="78.5" y="383.8" width="3.6" height="3.6" fill="#55a130"/>
<rect x="78.5" y="390.7" width="3.6" height="3.6" fill="#55a130"/>
<rect x="78.5" y="405.5" width="3.6" height="3.6" fill="#55a130"/>
<line x1="73.6" y1="389.2" x2="87" y2="389.2" stroke="#55a130" stroke-width="1.3" />
<line x1="80.3" y1="380.3" x2="80.3" y2="398.6" stroke="#55a130" stroke-width="1.1" />
<line x1="77.3" y1="380.3" x2="83.3" y2="380.3" stroke="#55a130" stroke-width="1.1" />
<line x1="77.3" y1="398.6" x2="83.3" y2="398.6" stroke="#55a130" stroke-width="1.1" />
<polygon points="101,397.63 99.02,401.36 102.98,401.36" fill="#ad1036"/>
<polygon points="98.1,404.63 96.12,408.36 100.08,408.36" fill="#ad1036"/>
<polygon points="103.7,407.33 101.72,411.06 105.68,411.06" fill="#ad1036"/>
<polygon points="97.5,409.93 95.52,413.66 99.48,413.66" fill="#ad1036"/>
<polygon points="101,414.13 99.02,417.86 102.98,417.86" fill="#ad1036"/>
<polygon points="104.9,414.13 102.92,417.86 106.88,417.86" fill="#ad1036"/>
<line x1="94.3" y1="409.9" x2="107.7" y2="409.9" stroke="#ad1036" stroke-width="1.3" />
<line x1="101" y1="403.8" x2="101" y2="413.5" stroke="#ad1036" stroke-width="1.1" />
<line x1="98" y1="403.8" x2="104" y2="403.8" stroke="#ad1036" stroke-width="1.1" />
<line x1="98" y1="413.5" x2="104" y2="413.5" stroke="#ad1036" stroke-width="1.1" />
<polygon points="121.5,415.07 119.52,411.34 123.48,411.34" fill="#25407f"/>
<polygon points="117.5,421.57 115.52,417.84 119.48,417.84" fill="#25407f"/>
<polygon points="125.5,421.57 123.52,417.84 127.48,417.84" fill="#25407f"/>
<polygon points="119.5,424.57 117.52,420.84 121.48,420.84" fill="#25407f"/>
<polygon points="123.5,425.07 121.52,421.34 125.48,421.34" fill="#25407f"/>
<polygon points="121.5,427.07 119.52,423.34 123.48,423.34" fill="#25407f"/>
<line x1="114.9" y1="420.7" x2="128.3" y2="420.7" stroke="#25407f" stroke-width="1.3" />
<line x1="121.6" y1="417" x2="121.6" y2="425.1" stroke="#25407f" stroke-width="1.1" />
<line x1="118.6" y1="417" x2="124.6" y2="417" stroke="#25407f" stroke-width="1.1" />
<line x1="118.6" y1="425.1" x2="124.6" y2="425.1" stroke="#25407f" stroke-width="1.1" />
<line x1="202.4" y1="335.8" x2="202.4" y2="430.15" stroke="#000" stroke-width="1.3" />
<line x1="199.1" y1="339.5" x2="202.4" y2="339.5" stroke="#000" stroke-width="1.1" />
<text x="195.2" y="343.3" font-size="8.8" text-anchor="end" stroke="#000" stroke-width="0.2" >2.0</text>
<line x1="199.1" y1="362" x2="202.4" y2="362" stroke="#000" stroke-width="1.1" />
<text x="195.2" y="365.8" font-size="8.8" text-anchor="end" stroke="#000" stroke-width="0.2" >1.5</text>
<line x1="199.1" y1="384.6" x2="202.4" y2="384.6" stroke="#000" stroke-width="1.1" />
<text x="195.2" y="388.4" font-size="8.8" text-anchor="end" stroke="#000" stroke-width="0.2" >1.0</text>
<line x1="199.1" y1="407.1" x2="202.4" y2="407.1" stroke="#000" stroke-width="1.1" />
<text x="195.2" y="410.9" font-size="8.8" text-anchor="end" stroke="#000" stroke-width="0.2" >0.5</text>
<line x1="199.1" y1="429.5" x2="202.4" y2="429.5" stroke="#000" stroke-width="1.1" />
<text x="195.2" y="433.3" font-size="8.8" text-anchor="end" stroke="#000" stroke-width="0.2" >0.0</text>
<line x1="201.75" y1="429.5" x2="292.8" y2="429.5" stroke="#000" stroke-width="1.3" />
<line x1="216.4" y1="429.5" x2="216.4" y2="432.8" stroke="#000" stroke-width="1.1" />
<line x1="236.9" y1="429.5" x2="236.9" y2="432.8" stroke="#000" stroke-width="1.1" />
<line x1="257.7" y1="429.5" x2="257.7" y2="432.8" stroke="#000" stroke-width="1.1" />
<line x1="278.5" y1="429.5" x2="278.5" y2="432.8" stroke="#000" stroke-width="1.1" />
<text x="247.9" y="329.1" font-size="10.88" text-anchor="middle" stroke="#000" stroke-width="0.2" >Normal donors</text>
<text x="0" y="0" font-size="10.8" text-anchor="middle" fill="#000" stroke="#000" stroke-width="0.45" transform="translate(164.8 382.3) rotate(-90) scale(0.6965 1)"><tspan >PD-1 on Tregs</tspan></text>
<text x="0" y="0" font-size="10.8" text-anchor="middle" fill="#000" stroke="#000" stroke-width="0.45" transform="translate(177.2 382.4) rotate(-90) scale(0.7033 1)"><tspan >(Fold change of MFI)</tspan></text>
<text x="0" y="0" font-size="8.9" text-anchor="end" stroke="#000" stroke-width="0.2" transform="translate(220.4 442.8) rotate(-45)" >DMSO</text>
<text x="0" y="0" font-size="8.9" text-anchor="end" stroke="#000" stroke-width="0.2" transform="translate(240.9 442.8) rotate(-45)" >umbralisib</text>
<text x="0" y="0" font-size="8.9" text-anchor="end" stroke="#000" stroke-width="0.2" transform="translate(261.7 442.8) rotate(-45)" >idelalisib</text>
<text x="0" y="0" font-size="8.9" text-anchor="end" stroke="#000" stroke-width="0.2" transform="translate(282.5 442.8) rotate(-45)" >duvelisib</text>
<line x1="214.9" y1="342.5" x2="279.2" y2="342.5" stroke="#3c3c3c" stroke-width="1.5" />
<circle cx="244.97" cy="339.3" r="1.15" fill="#111"/>
<circle cx="248.33" cy="339.3" r="1.15" fill="#111"/>
<line x1="214.9" y1="351.2" x2="260.2" y2="351.2" stroke="#3c3c3c" stroke-width="1.5" />
<circle cx="237.15" cy="348" r="1.15" fill="#111"/>
<line x1="214.9" y1="361.6" x2="240.9" y2="361.6" stroke="#3c3c3c" stroke-width="1.5" />
<text x="227.9" y="358.7" font-size="8.9" text-anchor="middle" fill="#222" font-style="italic" stroke="#222" stroke-width="0.2" >ns</text>
<line x1="236.5" y1="367" x2="279.2" y2="367" stroke="#3c3c3c" stroke-width="1.5" />
<circle cx="255.78" cy="363.8" r="1.15" fill="#111"/>
<circle cx="259.13" cy="363.8" r="1.15" fill="#111"/>
<line x1="236.5" y1="375.7" x2="258.2" y2="375.7" stroke="#3c3c3c" stroke-width="1.5" />
<circle cx="246.95" cy="372.5" r="1.15" fill="#111"/>
<circle cx="210.8" cy="384.7" r="1.75" fill="#4a1a5e"/>
<circle cx="213" cy="384.7" r="1.75" fill="#4a1a5e"/>
<circle cx="215.2" cy="384.7" r="1.75" fill="#4a1a5e"/>
<circle cx="217.4" cy="384.7" r="1.75" fill="#4a1a5e"/>
<circle cx="219.6" cy="384.7" r="1.75" fill="#4a1a5e"/>
<circle cx="221.8" cy="384.7" r="1.75" fill="#4a1a5e"/>
<line x1="209.7" y1="384.7" x2="223.1" y2="384.7" stroke="#4a1a5e" stroke-width="1.3" />
<line x1="216.4" y1="384.7" x2="216.4" y2="384.7" stroke="#4a1a5e" stroke-width="1.1" />
<line x1="216.4" y1="384.7" x2="216.4" y2="384.7" stroke="#4a1a5e" stroke-width="1.1" />
<line x1="216.4" y1="384.7" x2="216.4" y2="384.7" stroke="#4a1a5e" stroke-width="1.1" />
<rect x="237.8" y="379.8" width="3.6" height="3.6" fill="#55a130"/>
<rect x="230.7" y="384.5" width="3.6" height="3.6" fill="#55a130"/>
<rect x="233.7" y="384.7" width="3.6" height="3.6" fill="#55a130"/>
<rect x="236.7" y="384.2" width="3.6" height="3.6" fill="#55a130"/>
<rect x="239.7" y="383.5" width="3.6" height="3.6" fill="#55a130"/>
<rect x="234.2" y="386.5" width="3.6" height="3.6" fill="#55a130"/>
<line x1="230.2" y1="386.3" x2="243.6" y2="386.3" stroke="#55a130" stroke-width="1.3" />
<line x1="236.9" y1="385" x2="236.9" y2="387.8" stroke="#55a130" stroke-width="1.1" />
<line x1="233.9" y1="385" x2="239.9" y2="385" stroke="#55a130" stroke-width="1.1" />
<line x1="233.9" y1="387.8" x2="239.9" y2="387.8" stroke="#55a130" stroke-width="1.1" />
<polygon points="257.6,379.53 255.62,383.26 259.58,383.26" fill="#ad1036"/>
<polygon points="254,388.93 252.02,392.66 255.98,392.66" fill="#ad1036"/>
<polygon points="261,388.93 259.02,392.66 262.98,392.66" fill="#ad1036"/>
<polygon points="257.6,389.93 255.62,393.66 259.58,393.66" fill="#ad1036"/>
<polygon points="257.6,397.33 255.62,401.06 259.58,401.06" fill="#ad1036"/>
<line x1="251" y1="390.9" x2="264.4" y2="390.9" stroke="#ad1036" stroke-width="1.3" />
<line x1="257.7" y1="385.5" x2="257.7" y2="396.1" stroke="#ad1036" stroke-width="1.1" />
<line x1="254.7" y1="385.5" x2="260.7" y2="385.5" stroke="#ad1036" stroke-width="1.1" />
<line x1="254.7" y1="396.1" x2="260.7" y2="396.1" stroke="#ad1036" stroke-width="1.1" />
<polygon points="273.5,397.87 271.52,394.14 275.48,394.14" fill="#25407f"/>
<polygon points="283,397.87 281.02,394.14 284.98,394.14" fill="#25407f"/>
<polygon points="279,399.87 277.02,396.14 280.98,396.14" fill="#25407f"/>
<polygon points="276.5,405.57 274.52,401.84 278.48,401.84" fill="#25407f"/>
<polygon points="280.5,405.57 278.52,401.84 282.48,401.84" fill="#25407f"/>
<line x1="271.8" y1="401.4" x2="285.2" y2="401.4" stroke="#25407f" stroke-width="1.3" />
<line x1="278.5" y1="397.3" x2="278.5" y2="405" stroke="#25407f" stroke-width="1.1" />
<line x1="275.5" y1="397.3" x2="281.5" y2="397.3" stroke="#25407f" stroke-width="1.1" />
<line x1="275.5" y1="405" x2="281.5" y2="405" stroke="#25407f" stroke-width="1.1" />
<line x1="359.3" y1="335.2" x2="359.3" y2="429.35" stroke="#000" stroke-width="1.3" />
<line x1="356" y1="338.6" x2="359.3" y2="338.6" stroke="#000" stroke-width="1.1" />
<text x="352.1" y="341.9" font-size="9.1" text-anchor="end" stroke="#000" stroke-width="0.2" >2.0</text>
<line x1="356" y1="361.2" x2="359.3" y2="361.2" stroke="#000" stroke-width="1.1" />
<text x="352.1" y="364.5" font-size="9.1" text-anchor="end" stroke="#000" stroke-width="0.2" >1.5</text>
<line x1="356" y1="383.7" x2="359.3" y2="383.7" stroke="#000" stroke-width="1.1" />
<text x="352.1" y="387" font-size="9.1" text-anchor="end" stroke="#000" stroke-width="0.2" >1.0</text>
<line x1="356" y1="406.2" x2="359.3" y2="406.2" stroke="#000" stroke-width="1.1" />
<text x="352.1" y="409.5" font-size="9.1" text-anchor="end" stroke="#000" stroke-width="0.2" >0.5</text>
<line x1="356" y1="428.7" x2="359.3" y2="428.7" stroke="#000" stroke-width="1.1" />
<text x="352.1" y="432" font-size="9.1" text-anchor="end" stroke="#000" stroke-width="0.2" >0.0</text>
<line x1="358.65" y1="428.7" x2="449.7" y2="428.7" stroke="#000" stroke-width="1.3" />
<line x1="373.1" y1="428.7" x2="373.1" y2="432" stroke="#000" stroke-width="1.1" />
<line x1="393.9" y1="428.7" x2="393.9" y2="432" stroke="#000" stroke-width="1.1" />
<line x1="414.6" y1="428.7" x2="414.6" y2="432" stroke="#000" stroke-width="1.1" />
<line x1="435.4" y1="428.7" x2="435.4" y2="432" stroke="#000" stroke-width="1.1" />
<text x="0" y="0" font-size="10.8" text-anchor="middle" fill="#000" stroke="#000" stroke-width="0.45" transform="translate(319.8 381.6) rotate(-90) scale(0.6931 1)"><tspan >CTLA-4 on Tregs</tspan></text>
<text x="0" y="0" font-size="10.8" text-anchor="middle" fill="#000" stroke="#000" stroke-width="0.45" transform="translate(332.8 381.8) rotate(-90) scale(0.7133 1)"><tspan >(Fold change of MFI)</tspan></text>
<text x="0" y="0" font-size="8.9" text-anchor="end" stroke="#000" stroke-width="0.2" transform="translate(377.1 441.8) rotate(-45)" >DMSO</text>
<text x="0" y="0" font-size="8.9" text-anchor="end" stroke="#000" stroke-width="0.2" transform="translate(397.9 441.8) rotate(-45)" >umbralisib</text>
<text x="0" y="0" font-size="8.9" text-anchor="end" stroke="#000" stroke-width="0.2" transform="translate(418.6 441.8) rotate(-45)" >idelalisib</text>
<text x="0" y="0" font-size="8.9" text-anchor="end" stroke="#000" stroke-width="0.2" transform="translate(439.4 441.8) rotate(-45)" >duvelisib</text>
<line x1="372" y1="341.4" x2="436" y2="341.4" stroke="#3c3c3c" stroke-width="1.5" />
<circle cx="401.93" cy="338.2" r="1.15" fill="#111"/>
<circle cx="405.28" cy="338.2" r="1.15" fill="#111"/>
<line x1="372" y1="349.8" x2="417" y2="349.8" stroke="#3c3c3c" stroke-width="1.5" />
<circle cx="392.43" cy="346.6" r="1.15" fill="#111"/>
<circle cx="395.78" cy="346.6" r="1.15" fill="#111"/>
<line x1="372" y1="360.6" x2="397.6" y2="360.6" stroke="#3c3c3c" stroke-width="1.5" />
<text x="384.8" y="357.7" font-size="8.9" text-anchor="middle" fill="#222" font-style="italic" stroke="#222" stroke-width="0.2" >ns</text>
<line x1="395" y1="368" x2="436" y2="368" stroke="#3c3c3c" stroke-width="1.5" />
<circle cx="413.43" cy="364.8" r="1.15" fill="#111"/>
<circle cx="416.78" cy="364.8" r="1.15" fill="#111"/>
<line x1="395" y1="376" x2="415.9" y2="376" stroke="#3c3c3c" stroke-width="1.5" />
<circle cx="403.38" cy="372.8" r="1.15" fill="#111"/>
<circle cx="406.73" cy="372.8" r="1.15" fill="#111"/>
<circle cx="367.5" cy="383.9" r="1.75" fill="#4a1a5e"/>
<circle cx="369.7" cy="383.9" r="1.75" fill="#4a1a5e"/>
<circle cx="371.9" cy="383.9" r="1.75" fill="#4a1a5e"/>
<circle cx="374.1" cy="383.9" r="1.75" fill="#4a1a5e"/>
<circle cx="376.3" cy="383.9" r="1.75" fill="#4a1a5e"/>
<circle cx="378.5" cy="383.9" r="1.75" fill="#4a1a5e"/>
<line x1="366.4" y1="383.9" x2="379.8" y2="383.9" stroke="#4a1a5e" stroke-width="1.3" />
<line x1="373.1" y1="383.9" x2="373.1" y2="383.9" stroke="#4a1a5e" stroke-width="1.1" />
<line x1="373.1" y1="383.9" x2="373.1" y2="383.9" stroke="#4a1a5e" stroke-width="1.1" />
<line x1="373.1" y1="383.9" x2="373.1" y2="383.9" stroke="#4a1a5e" stroke-width="1.1" />
<rect x="392.1" y="378" width="3.6" height="3.6" fill="#55a130"/>
<rect x="388.7" y="381.2" width="3.6" height="3.6" fill="#55a130"/>
<rect x="395.5" y="381.2" width="3.6" height="3.6" fill="#55a130"/>
<rect x="392.1" y="383.2" width="3.6" height="3.6" fill="#55a130"/>
<rect x="388.7" y="384.7" width="3.6" height="3.6" fill="#55a130"/>
<rect x="395.5" y="384.7" width="3.6" height="3.6" fill="#55a130"/>
<line x1="387.2" y1="384.4" x2="400.6" y2="384.4" stroke="#55a130" stroke-width="1.3" />
<line x1="393.9" y1="382" x2="393.9" y2="387.5" stroke="#55a130" stroke-width="1.1" />
<line x1="390.9" y1="382" x2="396.9" y2="382" stroke="#55a130" stroke-width="1.1" />
<line x1="390.9" y1="387.5" x2="396.9" y2="387.5" stroke="#55a130" stroke-width="1.1" />
<polygon points="409.5,394.23 407.52,397.96 411.48,397.96" fill="#ad1036"/>
<polygon points="419.3,394.23 417.32,397.96 421.28,397.96" fill="#ad1036"/>
<polygon points="412,399.43 410.02,403.16 413.98,403.16" fill="#ad1036"/>
<polygon points="416.5,399.43 414.52,403.16 418.48,403.16" fill="#ad1036"/>
<polygon points="414.3,401.43 412.32,405.16 416.28,405.16" fill="#ad1036"/>
<line x1="407.9" y1="399.9" x2="421.3" y2="399.9" stroke="#ad1036" stroke-width="1.3" />
<line x1="414.6" y1="398" x2="414.6" y2="403" stroke="#ad1036" stroke-width="1.1" />
<line x1="411.6" y1="398" x2="417.6" y2="398" stroke="#ad1036" stroke-width="1.1" />
<line x1="411.6" y1="403" x2="417.6" y2="403" stroke="#ad1036" stroke-width="1.1" />
<polygon points="435.5,405.87 433.52,402.14 437.48,402.14" fill="#25407f"/>
<polygon points="431.5,410.07 429.52,406.34 433.48,406.34" fill="#25407f"/>
<polygon points="439.5,410.07 437.52,406.34 441.48,406.34" fill="#25407f"/>
<polygon points="433.5,412.57 431.52,408.84 435.48,408.84" fill="#25407f"/>
<polygon points="437.5,412.57 435.52,408.84 439.48,408.84" fill="#25407f"/>
<line x1="428.7" y1="409.3" x2="442.1" y2="409.3" stroke="#25407f" stroke-width="1.3" />
<line x1="435.4" y1="407.2" x2="435.4" y2="411.3" stroke="#25407f" stroke-width="1.1" />
<line x1="432.4" y1="407.2" x2="438.4" y2="407.2" stroke="#25407f" stroke-width="1.1" />
<line x1="432.4" y1="411.3" x2="438.4" y2="411.3" stroke="#25407f" stroke-width="1.1" />
<line x1="46.1" y1="517" x2="46.1" y2="612.05" stroke="#000" stroke-width="1.5" />
<line x1="42.8" y1="521.4" x2="46.1" y2="521.4" stroke="#000" stroke-width="1.27" />
<text x="38.9" y="525.1" font-size="10" text-anchor="end" stroke="#000" stroke-width="0.2" >50</text>
<line x1="42.8" y1="539.4" x2="46.1" y2="539.4" stroke="#000" stroke-width="1.27" />
<text x="38.9" y="543.1" font-size="10" text-anchor="end" stroke="#000" stroke-width="0.2" >40</text>
<line x1="42.8" y1="557.4" x2="46.1" y2="557.4" stroke="#000" stroke-width="1.27" />
<text x="38.9" y="561.1" font-size="10" text-anchor="end" stroke="#000" stroke-width="0.2" >30</text>
<line x1="42.8" y1="575.4" x2="46.1" y2="575.4" stroke="#000" stroke-width="1.27" />
<text x="38.9" y="579.1" font-size="10" text-anchor="end" stroke="#000" stroke-width="0.2" >20</text>
<line x1="42.8" y1="593.4" x2="46.1" y2="593.4" stroke="#000" stroke-width="1.27" />
<text x="38.9" y="597.1" font-size="10" text-anchor="end" stroke="#000" stroke-width="0.2" >10</text>
<line x1="42.8" y1="611.3" x2="46.1" y2="611.3" stroke="#000" stroke-width="1.27" />
<text x="38.9" y="615" font-size="10" text-anchor="end" stroke="#000" stroke-width="0.2" >0</text>
<line x1="45.35" y1="611.3" x2="136.5" y2="611.3" stroke="#000" stroke-width="1.5" />
<line x1="59.8" y1="611.3" x2="59.8" y2="614.6" stroke="#000" stroke-width="1.27" />
<line x1="80.3" y1="611.3" x2="80.3" y2="614.6" stroke="#000" stroke-width="1.27" />
<line x1="101.2" y1="611.3" x2="101.2" y2="614.6" stroke="#000" stroke-width="1.27" />
<line x1="121.8" y1="611.3" x2="121.8" y2="614.6" stroke="#000" stroke-width="1.27" />
<text x="0" y="0" font-size="10.8" text-anchor="middle" fill="#000" stroke="#000" stroke-width="0.45" transform="translate(21.8 564.6) rotate(-90) scale(0.7056 1)"><tspan >% Treg of CD4</tspan><tspan font-size="7.34" dy="-4.64">+</tspan></text>
<text x="0" y="0" font-size="9.3" text-anchor="end" stroke="#000" stroke-width="0.2" transform="translate(63.8 624.1) rotate(-45)" >DMSO</text>
<text x="0" y="0" font-size="9.3" text-anchor="end" stroke="#000" stroke-width="0.2" transform="translate(84.3 624.1) rotate(-45)" >umbralisib</text>
<text x="0" y="0" font-size="9.3" text-anchor="end" stroke="#000" stroke-width="0.2" transform="translate(105.2 624.1) rotate(-45)" >idelalisib</text>
<text x="0" y="0" font-size="9.3" text-anchor="end" stroke="#000" stroke-width="0.2" transform="translate(125.8 624.1) rotate(-45)" >duvelisib</text>
<line x1="56.5" y1="518.4" x2="121.2" y2="518.4" stroke="#3c3c3c" stroke-width="1.5" />
<circle cx="85.1" cy="515.2" r="1.15" fill="#111"/>
<circle cx="88.45" cy="515.2" r="1.15" fill="#111"/>
<circle cx="91.8" cy="515.2" r="1.15" fill="#111"/>
<line x1="56.5" y1="527.3" x2="100.2" y2="527.3" stroke="#3c3c3c" stroke-width="1.5" />
<circle cx="74.6" cy="524.1" r="1.15" fill="#111"/>
<circle cx="77.95" cy="524.1" r="1.15" fill="#111"/>
<circle cx="81.3" cy="524.1" r="1.15" fill="#111"/>
<line x1="56.5" y1="536.7" x2="81.6" y2="536.7" stroke="#3c3c3c" stroke-width="1.5" />
<text x="69.05" y="533.8" font-size="8.9" text-anchor="middle" fill="#222" font-style="italic" stroke="#222" stroke-width="0.2" >ns</text>
<line x1="80.2" y1="541.3" x2="121.2" y2="541.3" stroke="#3c3c3c" stroke-width="1.5" />
<circle cx="98.62" cy="538.1" r="1.15" fill="#111"/>
<circle cx="101.97" cy="538.1" r="1.15" fill="#111"/>
<line x1="80.2" y1="548.8" x2="101.8" y2="548.8" stroke="#3c3c3c" stroke-width="1.5" />
<circle cx="90.6" cy="545.6" r="1.15" fill="#111"/>
<circle cx="59.6" cy="556.6" r="1.8" fill="#4a1a5e"/>
<circle cx="56.9" cy="563.1" r="1.8" fill="#4a1a5e"/>
<circle cx="62.5" cy="563.1" r="1.8" fill="#4a1a5e"/>
<circle cx="56.9" cy="570" r="1.8" fill="#4a1a5e"/>
<circle cx="62.5" cy="570" r="1.8" fill="#4a1a5e"/>
<circle cx="59.6" cy="580.2" r="1.8" fill="#4a1a5e"/>
<line x1="53.1" y1="567.1" x2="66.5" y2="567.1" stroke="#4a1a5e" stroke-width="1.3" />
<line x1="59.8" y1="559.2" x2="59.8" y2="574.9" stroke="#4a1a5e" stroke-width="1.1" />
<line x1="56.8" y1="559.2" x2="62.8" y2="559.2" stroke="#4a1a5e" stroke-width="1.1" />
<line x1="56.8" y1="574.9" x2="62.8" y2="574.9" stroke="#4a1a5e" stroke-width="1.1" />
<rect x="78.5" y="551" width="3.6" height="3.6" fill="#55a130"/>
<rect x="78.5" y="568.7" width="3.6" height="3.6" fill="#55a130"/>
<rect x="74.5" y="574.5" width="3.6" height="3.6" fill="#55a130"/>
<rect x="82.7" y="574.5" width="3.6" height="3.6" fill="#55a130"/>
<rect x="78.5" y="577.4" width="3.6" height="3.6" fill="#55a130"/>
<rect x="78.5" y="591.3" width="3.6" height="3.6" fill="#55a130"/>
<line x1="73.6" y1="574.9" x2="87" y2="574.9" stroke="#55a130" stroke-width="1.3" />
<line x1="80.3" y1="561.6" x2="80.3" y2="588.3" stroke="#55a130" stroke-width="1.1" />
<line x1="77.3" y1="561.6" x2="83.3" y2="561.6" stroke="#55a130" stroke-width="1.1" />
<line x1="77.3" y1="588.3" x2="83.3" y2="588.3" stroke="#55a130" stroke-width="1.1" />
<polygon points="101.3,576.53 99.32,580.26 103.28,580.26" fill="#ad1036"/>
<polygon points="98.3,593.43 96.32,597.16 100.28,597.16" fill="#ad1036"/>
<polygon points="97.3,598.63 95.32,602.36 99.28,602.36" fill="#ad1036"/>
<polygon points="103.7,597.83 101.72,601.56 105.68,601.56" fill="#ad1036"/>
<polygon points="104.9,599.13 102.92,602.86 106.88,602.86" fill="#ad1036"/>
<line x1="94.5" y1="596.7" x2="107.9" y2="596.7" stroke="#ad1036" stroke-width="1.3" />
<line x1="101.2" y1="587.3" x2="101.2" y2="606.1" stroke="#ad1036" stroke-width="1.1" />
<line x1="98.2" y1="587.3" x2="104.2" y2="587.3" stroke="#ad1036" stroke-width="1.1" />
<line x1="98.2" y1="606.1" x2="104.2" y2="606.1" stroke="#ad1036" stroke-width="1.1" />
<polygon points="122,593.07 120.02,589.34 123.98,589.34" fill="#25407f"/>
<polygon points="119.9,598.77 117.92,595.04 121.88,595.04" fill="#25407f"/>
<polygon points="123.9,598.77 121.92,595.04 125.88,595.04" fill="#25407f"/>
<polygon points="122,600.37 120.02,596.64 123.98,596.64" fill="#25407f"/>
<polygon points="119.1,604.37 117.12,600.64 121.08,600.64" fill="#25407f"/>
<polygon points="122,609.27 120.02,605.54 123.98,605.54" fill="#25407f"/>
<line x1="115.1" y1="598.3" x2="128.5" y2="598.3" stroke="#25407f" stroke-width="1.3" />
<line x1="121.8" y1="591.8" x2="121.8" y2="603.2" stroke="#25407f" stroke-width="1.1" />
<line x1="118.8" y1="591.8" x2="124.8" y2="591.8" stroke="#25407f" stroke-width="1.1" />
<line x1="118.8" y1="603.2" x2="124.8" y2="603.2" stroke="#25407f" stroke-width="1.1" />
<line x1="202.2" y1="516.5" x2="202.2" y2="610.25" stroke="#000" stroke-width="1.3" />
<line x1="198.9" y1="519.4" x2="202.2" y2="519.4" stroke="#000" stroke-width="1.1" />
<text x="195" y="523.2" font-size="8.8" text-anchor="end" stroke="#000" stroke-width="0.2" >2.0</text>
<line x1="198.9" y1="541.9" x2="202.2" y2="541.9" stroke="#000" stroke-width="1.1" />
<text x="195" y="545.7" font-size="8.8" text-anchor="end" stroke="#000" stroke-width="0.2" >1.5</text>
<line x1="198.9" y1="564.4" x2="202.2" y2="564.4" stroke="#000" stroke-width="1.1" />
<text x="195" y="568.2" font-size="8.8" text-anchor="end" stroke="#000" stroke-width="0.2" >1.0</text>
<line x1="198.9" y1="586.9" x2="202.2" y2="586.9" stroke="#000" stroke-width="1.1" />
<text x="195" y="590.7" font-size="8.8" text-anchor="end" stroke="#000" stroke-width="0.2" >0.5</text>
<line x1="198.9" y1="609.6" x2="202.2" y2="609.6" stroke="#000" stroke-width="1.1" />
<text x="195" y="613.4" font-size="8.8" text-anchor="end" stroke="#000" stroke-width="0.2" >0.0</text>
<line x1="201.55" y1="609.6" x2="292.8" y2="609.6" stroke="#000" stroke-width="1.3" />
<line x1="216.4" y1="609.6" x2="216.4" y2="612.9" stroke="#000" stroke-width="1.1" />
<line x1="236.9" y1="609.6" x2="236.9" y2="612.9" stroke="#000" stroke-width="1.1" />
<line x1="257.7" y1="609.6" x2="257.7" y2="612.9" stroke="#000" stroke-width="1.1" />
<line x1="278.5" y1="609.6" x2="278.5" y2="612.9" stroke="#000" stroke-width="1.1" />
<text x="247.3" y="504.8" font-size="11" text-anchor="middle" stroke="#000" stroke-width="0.2" >CLL patients</text>
<text x="0" y="0" font-size="10.8" text-anchor="middle" fill="#000" stroke="#000" stroke-width="0.45" transform="translate(164.8 562.2) rotate(-90) scale(0.6965 1)"><tspan >PD-1 on Tregs</tspan></text>
<text x="0" y="0" font-size="10.8" text-anchor="middle" fill="#000" stroke="#000" stroke-width="0.45" transform="translate(177.2 562.3) rotate(-90) scale(0.7033 1)"><tspan >(Fold change of MFI)</tspan></text>
<text x="0" y="0" font-size="8.9" text-anchor="end" stroke="#000" stroke-width="0.2" transform="translate(220.4 622.8) rotate(-45)" >DMSO</text>
<text x="0" y="0" font-size="8.9" text-anchor="end" stroke="#000" stroke-width="0.2" transform="translate(240.9 622.8) rotate(-45)" >umbralisib</text>
<text x="0" y="0" font-size="8.9" text-anchor="end" stroke="#000" stroke-width="0.2" transform="translate(261.7 622.8) rotate(-45)" >idelalisib</text>
<text x="0" y="0" font-size="8.9" text-anchor="end" stroke="#000" stroke-width="0.2" transform="translate(282.5 622.8) rotate(-45)" >duvelisib</text>
<line x1="215.2" y1="516.3" x2="278.7" y2="516.3" stroke="#3c3c3c" stroke-width="1.5" />
<circle cx="244.87" cy="513.1" r="1.15" fill="#111"/>
<circle cx="248.22" cy="513.1" r="1.15" fill="#111"/>
<line x1="215.2" y1="525.3" x2="258.6" y2="525.3" stroke="#3c3c3c" stroke-width="1.5" />
<circle cx="236.5" cy="522.1" r="1.15" fill="#111"/>
<line x1="215.2" y1="536" x2="236.8" y2="536" stroke="#3c3c3c" stroke-width="1.5" />
<text x="226" y="533.1" font-size="8.9" text-anchor="middle" fill="#222" font-style="italic" stroke="#222" stroke-width="0.2" >ns</text>
<line x1="236.8" y1="542.6" x2="278.7" y2="542.6" stroke="#3c3c3c" stroke-width="1.5" />
<circle cx="255.68" cy="539.4" r="1.15" fill="#111"/>
<circle cx="259.03" cy="539.4" r="1.15" fill="#111"/>
<line x1="236.8" y1="551.6" x2="258.6" y2="551.6" stroke="#3c3c3c" stroke-width="1.5" />
<circle cx="247.3" cy="548.4" r="1.15" fill="#111"/>
<circle cx="210.8" cy="564.6" r="1.75" fill="#4a1a5e"/>
<circle cx="213" cy="564.6" r="1.75" fill="#4a1a5e"/>
<circle cx="215.2" cy="564.6" r="1.75" fill="#4a1a5e"/>
<circle cx="217.4" cy="564.6" r="1.75" fill="#4a1a5e"/>
<circle cx="219.6" cy="564.6" r="1.75" fill="#4a1a5e"/>
<circle cx="221.8" cy="564.6" r="1.75" fill="#4a1a5e"/>
<line x1="209.7" y1="564.6" x2="223.1" y2="564.6" stroke="#4a1a5e" stroke-width="1.3" />
<line x1="216.4" y1="564.6" x2="216.4" y2="564.6" stroke="#4a1a5e" stroke-width="1.1" />
<line x1="216.4" y1="564.6" x2="216.4" y2="564.6" stroke="#4a1a5e" stroke-width="1.1" />
<line x1="216.4" y1="564.6" x2="216.4" y2="564.6" stroke="#4a1a5e" stroke-width="1.1" />
<rect x="231" y="553.8" width="3.6" height="3.6" fill="#55a130"/>
<rect x="235.6" y="558.2" width="3.6" height="3.6" fill="#55a130"/>
<rect x="235.6" y="566.9" width="3.6" height="3.6" fill="#55a130"/>
<rect x="237.8" y="576.7" width="3.6" height="3.6" fill="#55a130"/>
<rect x="232.6" y="581.1" width="3.6" height="3.6" fill="#55a130"/>
<line x1="230.2" y1="566.6" x2="243.6" y2="566.6" stroke="#55a130" stroke-width="1.3" />
<line x1="236.9" y1="555.1" x2="236.9" y2="578.5" stroke="#55a130" stroke-width="1.1" />
<line x1="233.9" y1="555.1" x2="239.9" y2="555.1" stroke="#55a130" stroke-width="1.1" />
<line x1="233.9" y1="578.5" x2="239.9" y2="578.5" stroke="#55a130" stroke-width="1.1" />
<polygon points="257.6,567.43 255.62,571.16 259.58,571.16" fill="#ad1036"/>
<polygon points="260.9,573.13 258.92,576.86 262.88,576.86" fill="#ad1036"/>
<polygon points="254.8,575.63 252.82,579.36 256.78,579.36" fill="#ad1036"/>
<polygon points="257.6,586.23 255.62,589.96 259.58,589.96" fill="#ad1036"/>
<polygon points="260.9,587.33 258.92,591.06 262.88,591.06" fill="#ad1036"/>
<polygon points="254.8,591.93 252.82,595.66 256.78,595.66" fill="#ad1036"/>
<line x1="251" y1="582.3" x2="264.4" y2="582.3" stroke="#ad1036" stroke-width="1.3" />
<line x1="257.7" y1="572" x2="257.7" y2="591" stroke="#ad1036" stroke-width="1.1" />
<line x1="254.7" y1="572" x2="260.7" y2="572" stroke="#ad1036" stroke-width="1.1" />
<line x1="254.7" y1="591" x2="260.7" y2="591" stroke="#ad1036" stroke-width="1.1" />
<polygon points="278.5,575.17 276.52,571.44 280.48,571.44" fill="#25407f"/>
<polygon points="278.5,584.67 276.52,580.94 280.48,580.94" fill="#25407f"/>
<polygon points="275.6,593.67 273.62,589.94 277.58,589.94" fill="#25407f"/>
<polygon points="281.5,593.67 279.52,589.94 283.48,589.94" fill="#25407f"/>
<polygon points="276.9,599.07 274.92,595.34 278.88,595.34" fill="#25407f"/>
<polygon points="280.5,599.07 278.52,595.34 282.48,595.34" fill="#25407f"/>
<line x1="271.8" y1="589.1" x2="285.2" y2="589.1" stroke="#25407f" stroke-width="1.3" />
<line x1="278.5" y1="580.1" x2="278.5" y2="597.6" stroke="#25407f" stroke-width="1.1" />
<line x1="275.5" y1="580.1" x2="281.5" y2="580.1" stroke="#25407f" stroke-width="1.1" />
<line x1="275.5" y1="597.6" x2="281.5" y2="597.6" stroke="#25407f" stroke-width="1.1" />
<line x1="359.4" y1="514.5" x2="359.4" y2="608.55" stroke="#000" stroke-width="1.3" />
<line x1="356.1" y1="517.4" x2="359.4" y2="517.4" stroke="#000" stroke-width="1.1" />
<text x="352.2" y="520.7" font-size="9.1" text-anchor="end" stroke="#000" stroke-width="0.2" >2.0</text>
<line x1="356.1" y1="540" x2="359.4" y2="540" stroke="#000" stroke-width="1.1" />
<text x="352.2" y="543.3" font-size="9.1" text-anchor="end" stroke="#000" stroke-width="0.2" >1.5</text>
<line x1="356.1" y1="563.1" x2="359.4" y2="563.1" stroke="#000" stroke-width="1.1" />
<text x="352.2" y="566.4" font-size="9.1" text-anchor="end" stroke="#000" stroke-width="0.2" >1.0</text>
<line x1="356.1" y1="585.7" x2="359.4" y2="585.7" stroke="#000" stroke-width="1.1" />
<text x="352.2" y="589" font-size="9.1" text-anchor="end" stroke="#000" stroke-width="0.2" >0.5</text>
<line x1="356.1" y1="607.9" x2="359.4" y2="607.9" stroke="#000" stroke-width="1.1" />
<text x="352.2" y="611.2" font-size="9.1" text-anchor="end" stroke="#000" stroke-width="0.2" >0.0</text>
<line x1="358.75" y1="607.9" x2="449.7" y2="607.9" stroke="#000" stroke-width="1.3" />
<line x1="373.1" y1="607.9" x2="373.1" y2="611.2" stroke="#000" stroke-width="1.1" />
<line x1="393.9" y1="607.9" x2="393.9" y2="611.2" stroke="#000" stroke-width="1.1" />
<line x1="414.6" y1="607.9" x2="414.6" y2="611.2" stroke="#000" stroke-width="1.1" />
<line x1="435.4" y1="607.9" x2="435.4" y2="611.2" stroke="#000" stroke-width="1.1" />
<text x="0" y="0" font-size="10.8" text-anchor="middle" fill="#000" stroke="#000" stroke-width="0.45" transform="translate(319.8 561) rotate(-90) scale(0.6931 1)"><tspan >CTLA-4 on Tregs</tspan></text>
<text x="0" y="0" font-size="10.8" text-anchor="middle" fill="#000" stroke="#000" stroke-width="0.45" transform="translate(332.8 561.2) rotate(-90) scale(0.7133 1)"><tspan >(Fold change of MFI)</tspan></text>
<text x="0" y="0" font-size="8.9" text-anchor="end" stroke="#000" stroke-width="0.2" transform="translate(377.1 620.8) rotate(-45)" >DMSO</text>
<text x="0" y="0" font-size="8.9" text-anchor="end" stroke="#000" stroke-width="0.2" transform="translate(397.9 620.8) rotate(-45)" >umbralisib</text>
<text x="0" y="0" font-size="8.9" text-anchor="end" stroke="#000" stroke-width="0.2" transform="translate(418.6 620.8) rotate(-45)" >idelalisib</text>
<text x="0" y="0" font-size="8.9" text-anchor="end" stroke="#000" stroke-width="0.2" transform="translate(439.4 620.8) rotate(-45)" >duvelisib</text>
<line x1="372" y1="518.5" x2="436" y2="518.5" stroke="#3c3c3c" stroke-width="1.5" />
<circle cx="400.25" cy="515.3" r="1.15" fill="#111"/>
<circle cx="403.6" cy="515.3" r="1.15" fill="#111"/>
<circle cx="406.95" cy="515.3" r="1.15" fill="#111"/>
<line x1="372" y1="528.4" x2="414" y2="528.4" stroke="#3c3c3c" stroke-width="1.5" />
<circle cx="389.25" cy="525.2" r="1.15" fill="#111"/>
<circle cx="392.6" cy="525.2" r="1.15" fill="#111"/>
<circle cx="395.95" cy="525.2" r="1.15" fill="#111"/>
<line x1="372" y1="538.6" x2="392.8" y2="538.6" stroke="#3c3c3c" stroke-width="1.5" />
<text x="382.4" y="535.7" font-size="8.9" text-anchor="middle" fill="#222" font-style="italic" stroke="#222" stroke-width="0.2" >ns</text>
<line x1="395" y1="541.2" x2="436" y2="541.2" stroke="#3c3c3c" stroke-width="1.5" />
<circle cx="413.43" cy="538" r="1.15" fill="#111"/>
<circle cx="416.78" cy="538" r="1.15" fill="#111"/>
<line x1="395" y1="550.3" x2="414.8" y2="550.3" stroke="#3c3c3c" stroke-width="1.5" />
<circle cx="402.82" cy="547.1" r="1.15" fill="#111"/>
<circle cx="406.18" cy="547.1" r="1.15" fill="#111"/>
<circle cx="367.5" cy="563" r="1.75" fill="#4a1a5e"/>
<circle cx="369.7" cy="563" r="1.75" fill="#4a1a5e"/>
<circle cx="371.9" cy="563" r="1.75" fill="#4a1a5e"/>
<circle cx="374.1" cy="563" r="1.75" fill="#4a1a5e"/>
<circle cx="376.3" cy="563" r="1.75" fill="#4a1a5e"/>
<circle cx="378.5" cy="563" r="1.75" fill="#4a1a5e"/>
<line x1="366.4" y1="563" x2="379.8" y2="563" stroke="#4a1a5e" stroke-width="1.3" />
<line x1="373.1" y1="563" x2="373.1" y2="563" stroke="#4a1a5e" stroke-width="1.1" />
<line x1="373.1" y1="563" x2="373.1" y2="563" stroke="#4a1a5e" stroke-width="1.1" />
<line x1="373.1" y1="563" x2="373.1" y2="563" stroke="#4a1a5e" stroke-width="1.1" />
<rect x="389.3" y="553.8" width="3.6" height="3.6" fill="#55a130"/>
<rect x="397.5" y="559" width="3.6" height="3.6" fill="#55a130"/>
<rect x="394.2" y="562.8" width="3.6" height="3.6" fill="#55a130"/>
<rect x="388.8" y="565.3" width="3.6" height="3.6" fill="#55a130"/>
<rect x="392.1" y="571.8" width="3.6" height="3.6" fill="#55a130"/>
<rect x="392.1" y="580.5" width="3.6" height="3.6" fill="#55a130"/>
<line x1="387.2" y1="567.4" x2="400.6" y2="567.4" stroke="#55a130" stroke-width="1.3" />
<line x1="393.9" y1="557.7" x2="393.9" y2="576" stroke="#55a130" stroke-width="1.1" />
<line x1="390.9" y1="557.7" x2="396.9" y2="557.7" stroke="#55a130" stroke-width="1.1" />
<line x1="390.9" y1="576" x2="396.9" y2="576" stroke="#55a130" stroke-width="1.1" />
<polygon points="414.3,577.23 412.32,580.96 416.28,580.96" fill="#ad1036"/>
<polygon points="411,579.43 409.02,583.16 412.98,583.16" fill="#ad1036"/>
<polygon points="417.6,579.43 415.62,583.16 419.58,583.16" fill="#ad1036"/>
<polygon points="417.6,581.33 415.62,585.06 419.58,585.06" fill="#ad1036"/>
<polygon points="411.8,581.33 409.82,585.06 413.78,585.06" fill="#ad1036"/>
<polygon points="414.3,583.93 412.32,587.66 416.28,587.66" fill="#ad1036"/>
<polygon points="414.3,592.23 412.32,595.96 416.28,595.96" fill="#ad1036"/>
<line x1="407.9" y1="584.2" x2="421.3" y2="584.2" stroke="#ad1036" stroke-width="1.3" />
<line x1="414.6" y1="579.3" x2="414.6" y2="589.1" stroke="#ad1036" stroke-width="1.1" />
<line x1="411.6" y1="579.3" x2="417.6" y2="579.3" stroke="#ad1036" stroke-width="1.1" />
<line x1="411.6" y1="589.1" x2="417.6" y2="589.1" stroke="#ad1036" stroke-width="1.1" />
<polygon points="439.6,580.57 437.62,576.84 441.58,576.84" fill="#25407f"/>
<polygon points="432.3,582.17 430.32,578.44 434.28,578.44" fill="#25407f"/>
<polygon points="435.2,583.87 433.22,580.14 437.18,580.14" fill="#25407f"/>
<polygon points="435.2,591.47 433.22,587.74 437.18,587.74" fill="#25407f"/>
<line x1="428.7" y1="582.9" x2="442.1" y2="582.9" stroke="#25407f" stroke-width="1.3" />
<line x1="435.4" y1="580.1" x2="435.4" y2="585.8" stroke="#25407f" stroke-width="1.1" />
<line x1="432.4" y1="580.1" x2="438.4" y2="580.1" stroke="#25407f" stroke-width="1.1" />
<line x1="432.4" y1="585.8" x2="438.4" y2="585.8" stroke="#25407f" stroke-width="1.1" />
</svg>
</body></html>
